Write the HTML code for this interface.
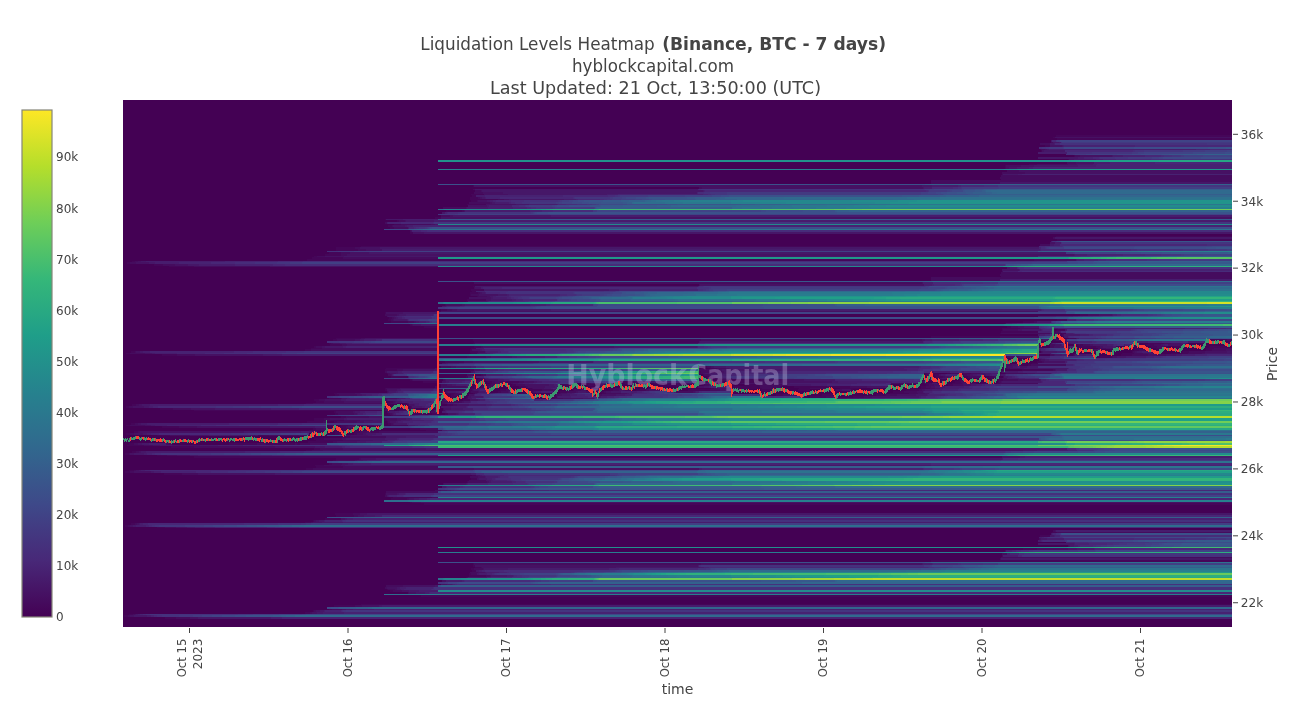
<!DOCTYPE html><html><head><meta charset="utf-8"><title>Liquidation Levels Heatmap</title><style>html,body{margin:0;padding:0;background:#fff;width:1312px;height:707px;overflow:hidden}svg{display:block}text{font-family:'DejaVu Sans','Liberation Sans',sans-serif;fill:#444}</style></head><body><svg width="1312" height="707" viewBox="0 0 1312 707"><rect width="1312" height="707" fill="#fff"/><rect x="123" y="100" width="1109" height="527" fill="#440154"/><g transform="translate(0,.5)" fill="none" stroke-width="1" shape-rendering="crispEdges"><path stroke="#450659" d="M1056 135h176M1056 136h176M1053 137h2M1057 138h175M1057 139h175M1045 145h5M1045 146h5M1040 149h1M1041 150h1M1041 151h1M1074 155h1M1074 156h1M1068 159h1M1029 164h8M1005 165h1M1005 166h1M1005 167h1M1005 168h1M473 185h1M473 186h1M471 194h13M472 195h4M472 196h4M470 197h8M470 198h8M470 199h28M471 200h6M471 201h6M467 204h19M446 210h16M446 211h16M435 217h6M435 218h6M385 219h1M397 220h2M397 221h2M394 224h7M388 225h4M388 226h4M390 227h4M390 228h4M410 232h3M410 233h3M1056 236h176M1057 239h175M1057 240h175M361 246h678M336 247h19M336 248h19M336 249h22M336 250h22M329 252h12M329 253h12M325 254h16M325 255h16M314 256h3M312 257h31M312 258h31M307 259h727M307 260h727M132 261h3M127 262h3M127 263h3M154 264h9M154 265h9M169 266h25M473 286h2M471 289h13M471 290h13M472 291h4M470 292h8M470 293h8M470 294h1M470 295h1M477 296h1M467 299h19M467 300h19M466 301h2M445 304h1M445 305h1M441 309h6M441 310h6M435 311h6M385 312h1M385 313h1M1080 314h8M1080 315h8M389 317h3M389 318h3M388 319h3M1057 319h10M388 320h3M1057 320h10M391 321h17M1023 321h11M391 322h17M1023 322h11M1005 323h1M410 324h2M410 325h2M424 326h13M1007 326h4M424 327h13M1007 327h4M1002 328h18M1002 329h1M1057 329h8M1002 330h1M1057 330h8M1001 331h37M1053 331h3M1001 332h37M1053 332h3M1000 333h1M1054 333h1M1062 333h4M1060 334h1M1062 334h1M1060 335h1M1062 335h1M931 336h69M1063 336h1M931 337h69M1063 337h1M336 338h25M1069 338h7M333 339h4M473 339h228M1039 339h1M1053 339h3M1206 339h21M333 340h4M473 340h228M1039 340h1M1053 340h3M1206 340h21M474 341h225M1230 341h1M474 342h225M1230 342h1M329 343h2M473 343h2M1148 343h16M1203 343h2M330 344h12M1078 344h5M1146 344h8M330 345h12M1078 345h5M1146 345h8M314 346h2M474 346h7M1040 346h2M1079 346h17M1118 346h2M1151 346h6M1164 346h4M1174 346h6M1209 346h19M314 347h2M474 347h7M1040 347h2M1079 347h17M1118 347h2M1151 347h6M1164 347h4M1174 347h6M1209 347h19M311 348h11M471 348h5M1077 348h2M1080 348h3M1135 348h4M1156 348h4M1162 348h2M1206 348h8M305 349h6M470 349h2M1068 349h1M1093 349h1M1100 349h2M1110 349h4M1134 349h5M1206 349h6M305 350h6M470 350h2M1068 350h1M1093 350h1M1100 350h2M1110 350h4M1134 350h5M1206 350h6M131 351h4M470 351h8M1095 351h3M1132 351h1M1182 351h7M131 352h4M470 352h8M1095 352h3M1132 352h1M1182 352h7M126 353h4M471 353h6M1092 353h1M1122 353h12M1171 353h17M162 354h15M1073 354h1M1094 354h1M1121 354h11M162 355h15M1073 355h1M1094 355h1M1121 355h11M467 356h19M1031 356h4M1100 356h12M467 357h19M1031 357h4M1100 357h12M1022 358h1M445 361h19M1037 361h5M445 362h19M1037 362h5M1002 363h1M1005 363h2M1032 363h6M1005 364h1M1028 364h3M1005 365h1M1028 365h3M704 366h3M1003 366h1M704 367h3M1003 367h1M386 368h49M710 368h7M1002 368h5M385 369h12M470 369h4M1022 369h31M385 370h12M470 370h4M1022 370h31M470 371h1M699 371h2M1001 371h1M470 372h1M699 372h2M1001 372h1M387 373h1M925 373h2M947 373h4M963 373h8M1005 373h1M481 374h2M703 374h1M926 374h2M935 374h4M964 374h3M481 375h2M703 375h1M926 375h2M935 375h4M964 375h3M391 376h17M466 376h2M707 376h4M936 376h7M968 376h2M989 376h5M996 376h1M391 377h17M466 377h2M707 377h4M936 377h7M968 377h2M989 377h5M996 377h1M479 378h1M710 378h4M931 378h2M991 378h2M410 379h2M473 379h1M478 379h7M716 379h7M726 379h3M732 379h29M930 379h2M941 379h5M959 379h6M984 379h2M998 379h5M410 380h2M473 380h1M478 380h7M716 380h7M726 380h3M732 380h29M930 380h2M941 380h5M959 380h6M984 380h2M998 380h5M423 381h14M474 381h2M477 381h1M487 381h5M506 381h13M621 381h8M731 381h29M922 381h1M933 381h3M955 381h6M998 381h1M423 382h14M474 382h2M477 382h1M487 382h5M506 382h13M621 382h8M731 382h29M922 382h1M933 382h3M955 382h6M998 382h1M473 383h2M490 383h2M509 383h2M575 383h1M583 383h6M625 383h7M654 383h13M899 383h1M924 383h1M926 383h4M952 383h10M981 383h9M997 383h3M481 384h4M486 384h5M495 384h4M512 384h4M560 384h10M588 384h8M604 384h3M630 384h4M667 384h10M703 384h2M745 384h14M901 384h3M926 384h3M948 384h5M481 385h4M486 385h5M495 385h4M512 385h4M560 385h10M588 385h8M604 385h3M630 385h4M667 385h10M703 385h2M745 385h14M901 385h3M926 385h3M948 385h5M474 386h4M481 386h4M487 386h1M519 386h7M559 386h1M594 386h1M600 386h2M676 386h5M697 386h1M733 386h27M780 386h2M794 386h33M830 386h20M889 386h1M921 386h5M474 387h4M481 387h4M487 387h1M519 387h7M559 387h1M594 387h1M600 387h2M676 387h5M697 387h1M733 387h27M780 387h2M794 387h33M830 387h20M889 387h1M921 387h5M385 388h1M471 388h5M489 388h1M508 388h1M510 388h1M515 388h5M527 388h5M597 388h1M609 388h6M648 388h6M711 388h3M733 388h29M799 388h11M826 388h4M840 388h19M870 388h4M921 388h9M385 389h2M446 389h18M470 389h2M500 389h6M530 389h12M566 389h2M573 389h1M610 389h3M636 389h10M688 389h22M761 389h14M798 389h12M835 389h1M851 389h2M906 389h13M385 390h2M446 390h18M470 390h2M500 390h6M530 390h12M566 390h2M573 390h1M610 390h3M636 390h10M688 390h22M761 390h14M798 390h12M835 390h1M851 390h2M906 390h13M445 391h1M470 391h1M498 391h3M531 391h2M560 391h7M600 391h4M764 391h3M893 391h11M445 392h1M470 392h1M498 392h3M531 392h2M560 392h7M600 392h4M764 392h3M893 392h11M334 393h3M447 393h8M473 393h2M520 393h10M558 393h2M602 393h4M830 393h3M890 393h19M335 394h4M451 394h3M458 394h1M596 394h1M776 394h7M795 394h4M822 394h13M876 394h10M335 395h4M451 395h3M458 395h1M596 395h1M776 395h7M795 395h4M822 395h13M876 395h10M451 396h5M467 396h1M545 396h2M554 396h3M810 396h16M835 396h1M853 396h11M451 397h5M467 397h1M545 397h2M554 397h3M810 397h16M835 397h1M853 397h11M329 398h12M385 398h1M466 398h1M536 398h5M552 398h3M314 399h5M463 399h7M314 400h5M463 400h7M316 401h8M390 401h3M316 402h8M390 402h3M306 403h7M388 403h3M132 404h4M408 404h1M447 404h6M132 405h4M408 405h1M447 405h6M126 406h3M410 406h1M126 407h3M410 407h1M160 408h13M385 408h1M403 408h3M410 408h3M424 408h6M160 409h13M385 409h1M403 409h3M410 409h3M424 409h6M194 410h189M397 410h2M408 410h1M433 410h1M334 411h2M409 411h1M334 412h2M409 412h1M335 413h3M388 413h2M413 413h12M432 413h6M445 413h3M335 414h3M388 414h2M413 414h12M432 414h6M445 414h3M391 415h2M341 416h5M341 417h5M314 418h10M385 418h1M314 419h10M385 419h1M314 420h30M385 420h2M307 421h16M334 421h3M387 421h1M307 422h16M334 422h3M387 422h1M131 423h4M388 423h3M131 424h4M388 424h3M126 425h4M329 425h3M341 425h7M358 425h10M391 425h17M162 426h17M341 426h5M355 426h1M162 427h17M341 427h5M355 427h1M313 428h3M343 428h9M410 428h10M313 429h3M343 429h9M410 429h10M309 430h12M426 430h16M134 431h4M317 431h9M335 431h7M355 431h5M371 431h8M134 432h4M317 432h9M335 432h7M355 432h5M371 432h8M126 433h4M335 433h4M342 433h1M354 433h3M126 434h4M335 434h4M342 434h1M354 434h3M157 435h13M258 435h11M342 436h8M342 437h8M314 438h10M314 439h10M316 440h27M308 441h25M308 442h25M129 443h5M229 443h28M266 443h29M297 443h3M129 444h5M229 444h28M266 444h29M297 444h3M127 445h17M171 446h23M171 447h23M314 448h6M314 449h6M306 450h6M132 451h4M132 452h4M125 453h4M125 454h4M157 455h10M194 456h808M194 457h808M336 458h23M336 459h23M333 460h3M329 463h3M329 464h3M315 465h9M316 466h27M316 467h27M306 468h7M306 469h7M129 470h5M125 471h5M125 472h5M164 473h18M164 474h18M472 475h4M471 478h6M471 479h6M467 481h1M467 482h1M385 493h1M385 494h1M393 497h39M391 498h16M391 499h16M410 502h2M424 503h808M424 504h808M335 513h18M335 514h18M336 515h18M336 516h18M325 518h16M325 519h16M313 520h1M313 521h1M305 522h6M131 523h4M131 524h4M125 525h3M125 526h3M157 527h8M1052 532h5M1040 535h10M1040 536h10M1023 548h14M1023 549h14M931 560h301M931 561h301M473 563h1M473 564h1M473 565h2M473 566h2M475 567h6M471 568h3M471 569h3M472 570h4M472 571h4M469 573h2M469 574h2M469 575h17M469 576h17M466 577h1M387 589h1M390 590h3M390 591h3M421 595h811M421 596h811M361 604h871M334 605h21M334 606h21M329 609h3M313 610h1M313 611h1M305 612h5M305 613h5M129 614h4M124 615h4M124 616h4M165 617h11M165 618h11"/><path stroke="#450c5e" d="M1051 142h2M1040 143h10M1040 144h10M1041 149h4M1075 155h5M1075 156h5M1067 162h9M1067 163h9M1037 164h31M1006 165h15M1006 166h15M1006 167h3M1006 168h3M1007 170h12M1007 171h12M1002 172h23M1002 173h23M1002 174h1M1001 175h231M1001 176h231M1000 177h232M1000 178h232M1001 179h231M931 180h301M931 181h301M931 182h69M931 183h69M699 187h3M699 188h3M473 189h2M475 190h6M475 191h6M474 192h9M474 193h9M478 197h2M478 198h2M498 199h6M477 200h1M477 201h1M469 202h21M469 203h21M443 207h23M443 208h23M462 210h2M462 211h2M441 215h9M441 216h9M399 220h6M399 221h6M385 222h2M385 223h2M401 224h30M392 225h1M392 226h1M394 227h14M394 228h14M410 230h1M410 231h1M1053 237h2M1053 238h2M1040 244h10M1040 245h10M355 247h5M355 248h5M358 249h8M358 250h8M341 252h9M341 253h9M341 254h6M341 255h6M317 256h8M343 257h95M343 258h95M1034 259h42M1034 260h42M135 261h3M130 262h6M130 263h6M163 264h12M163 265h12M194 266h76M1002 271h1M1001 272h231M1001 273h231M1000 274h232M1000 275h232M1001 276h231M931 277h301M931 278h301M931 279h69M931 280h69M474 282h448M474 283h448M699 284h1M699 285h1M474 287h1M474 288h1M478 292h2M478 293h2M471 294h8M471 295h8M478 296h9M446 304h16M446 305h16M447 309h5M447 310h5M385 314h12M1088 314h11M385 315h12M1088 315h11M392 317h2M392 318h2M391 319h2M391 320h2M408 321h6M1034 321h3M408 322h6M1034 322h3M412 324h1M412 325h1M1011 326h7M1011 327h7M1020 328h19M1003 329h15M1003 330h15M1056 331h3M1056 332h3M1001 333h49M1055 333h3M1063 334h1M1063 335h1M1000 336h39M1000 337h39M361 338h4M337 339h18M701 339h221M1041 339h1M1056 339h6M1227 339h5M337 340h18M701 340h221M1041 340h1M1056 340h6M1227 340h5M331 343h2M1164 343h7M1186 343h2M342 344h5M1050 344h5M1083 344h7M1154 344h7M342 345h5M1050 345h5M1083 345h7M1154 345h7M316 346h6M481 346h2M1050 346h4M1068 346h1M1096 346h4M1157 346h7M1180 346h1M316 347h6M481 347h2M1050 347h4M1068 347h1M1096 347h4M1157 347h7M1180 347h1M322 348h115M1076 348h1M1079 348h1M1098 348h8M1115 348h1M1160 348h2M1214 348h17M311 349h126M1077 349h2M1139 349h6M1212 349h14M311 350h126M1077 350h2M1139 350h6M1212 350h14M135 351h1M478 351h7M1041 351h1M1133 351h2M1151 351h2M1189 351h16M135 352h1M478 352h7M1041 352h1M1133 352h2M1151 352h2M1189 352h16M130 353h15M1134 353h9M1153 353h2M1188 353h14M177 354h18M1050 354h4M1074 354h1M1132 354h16M1156 354h10M177 355h18M1050 355h4M1074 355h1M1132 355h16M1156 355h10M486 356h5M1007 356h12M1112 356h1M486 357h5M1007 357h12M1112 357h1M1039 359h2M1039 360h2M464 361h9M1042 361h2M464 362h9M1042 362h2M1007 364h5M1031 364h35M1007 365h5M1031 365h35M441 366h10M707 366h4M1004 366h4M441 367h10M707 367h4M1004 367h4M717 368h9M1007 368h3M397 369h6M699 369h13M1053 369h2M397 370h6M699 370h13M1053 370h2M385 371h2M701 371h14M385 372h2M701 372h14M388 373h2M698 373h5M927 373h2M930 373h1M951 373h10M971 373h9M1006 373h21M388 374h3M467 374h7M483 374h3M704 374h5M928 374h2M958 374h1M967 374h3M1000 374h1M388 375h3M467 375h7M483 375h3M704 375h5M928 375h2M958 375h1M967 375h3M1000 375h1M711 376h1M923 376h1M943 376h2M970 376h10M982 376h1M994 376h2M1003 376h1M711 377h1M923 377h1M943 377h2M970 377h10M982 377h1M994 377h2M1003 377h1M480 378h2M714 378h6M949 378h2M1000 378h2M412 379h1M443 379h2M485 379h1M723 379h3M761 379h20M932 379h2M1003 379h15M412 380h1M443 380h2M485 380h1M723 380h3M761 380h20M932 380h2M1003 380h15M478 381h3M492 381h3M500 381h6M519 381h5M629 381h6M637 381h8M699 381h12M760 381h18M923 381h1M961 381h6M999 381h2M478 382h3M492 382h3M500 382h6M519 382h5M629 382h6M637 382h8M699 382h12M760 382h18M923 382h1M961 382h6M999 382h2M492 383h3M499 383h1M511 383h2M589 383h2M610 383h2M614 383h2M634 383h3M667 383h15M692 383h7M711 383h3M731 383h11M891 383h8M900 383h19M925 383h1M930 383h2M962 383h1M967 383h9M1000 383h38M441 384h6M475 384h2M491 384h4M516 384h9M570 384h4M596 384h4M677 384h6M705 384h4M714 384h1M759 384h23M929 384h5M953 384h10M441 385h6M475 385h2M491 385h4M516 385h9M570 385h4M596 385h4M677 385h6M705 385h4M714 385h1M759 385h23M929 385h5M953 385h10M435 386h2M441 386h25M488 386h1M490 386h5M526 386h2M760 386h20M827 386h3M850 386h17M926 386h5M435 387h2M441 387h25M488 387h1M490 387h5M526 387h2M760 387h20M827 387h3M850 387h17M926 387h5M386 388h14M532 388h1M598 388h1M615 388h4M714 388h4M732 388h1M762 388h11M775 388h2M810 388h16M930 388h5M464 389h1M472 389h1M506 389h5M542 389h11M574 389h7M613 389h6M625 389h6M646 389h3M660 389h2M710 389h10M836 389h6M919 389h3M464 390h1M472 390h1M506 390h5M542 390h11M574 390h7M613 390h6M625 390h6M646 390h3M660 390h2M710 390h10M836 390h6M919 390h3M387 391h1M446 391h1M471 391h7M487 391h1M501 391h7M533 391h1M567 391h9M604 391h2M676 391h17M904 391h13M387 392h1M446 392h1M471 392h7M487 392h1M501 392h7M533 392h1M567 392h9M604 392h2M676 392h17M904 392h13M337 393h18M455 393h3M560 393h1M606 393h15M909 393h9M339 394h18M441 394h1M454 394h4M556 394h3M599 394h3M783 394h12M886 394h11M339 395h18M441 395h1M454 395h4M556 395h3M599 395h3M783 395h12M886 395h11M383 396h1M826 396h7M864 396h8M383 397h1M826 397h7M864 397h8M341 398h1M386 398h11M443 398h4M467 398h1M555 398h8M319 399h6M385 399h2M443 399h1M319 400h6M385 400h2M443 400h1M324 401h20M393 401h2M442 401h20M324 402h20M393 402h2M442 402h20M313 403h70M391 403h3M407 403h1M442 403h3M136 404h3M433 404h1M453 404h4M136 405h3M433 405h1M453 405h4M129 406h4M411 406h1M435 406h3M129 407h4M411 407h1M435 407h3M173 408h18M388 408h1M413 408h1M443 408h1M173 409h18M388 409h1M413 409h1M443 409h1M385 410h2M390 410h4M399 410h7M407 410h1M443 410h2M336 411h17M387 411h1M431 411h4M336 412h17M387 412h1M431 412h4M338 413h16M390 413h2M338 414h16M390 414h2M393 415h14M346 416h23M346 417h23M324 418h6M386 418h11M324 419h6M386 419h11M344 420h16M387 420h10M323 421h3M337 421h20M388 421h2M323 422h3M337 422h20M388 422h2M135 423h3M391 423h2M135 424h3M391 424h2M130 425h15M332 425h4M348 425h5M368 425h6M179 426h18M346 426h2M179 427h18M346 427h2M316 428h8M420 428h18M316 429h8M420 429h18M321 430h5M138 431h2M360 431h7M379 431h59M138 432h2M360 432h7M379 432h59M130 433h4M339 433h3M357 433h6M130 434h4M339 434h3M357 434h6M170 435h20M254 435h1M269 435h30M303 435h4M343 435h8M350 436h36M350 437h36M324 438h18M324 439h18M343 440h17M333 441h4M333 442h4M134 443h4M166 443h6M257 443h9M295 443h2M300 443h10M134 444h4M166 444h6M257 444h9M295 444h2M300 444h10M144 445h9M194 446h81M194 447h81M320 448h23M320 449h23M312 450h11M136 451h3M136 452h3M129 453h1M129 454h1M167 455h10M359 458h2M359 459h2M336 460h19M332 463h10M332 464h10M324 465h17M343 466h95M343 467h95M313 468h161M313 469h161M134 470h2M130 471h4M130 472h4M182 473h16M182 474h16M470 476h8M470 477h8M469 480h17M468 481h19M468 482h19M443 483h1M443 484h1M435 490h6M386 491h52M386 492h52M385 495h2M385 496h2M432 497h6M407 498h2M407 499h2M412 502h9M353 513h7M353 514h7M354 515h4M354 516h4M314 520h2M314 521h2M311 522h2M135 523h2M135 524h2M128 525h2M128 526h2M165 527h11M1053 530h2M1053 531h2M1057 532h175M1039 538h1M1039 539h1M1068 545h1M1068 546h1M1037 548h31M1037 549h31M1005 550h1M1005 551h1M1002 553h5M1002 554h5M1002 555h1M1002 556h1M1001 557h231M1000 558h1M1000 559h1M474 563h227M474 564h227M481 567h1M474 568h9M474 569h9M470 572h8M471 573h6M471 574h6M486 575h4M486 576h4M467 577h1M386 585h17M386 586h17M385 587h2M385 588h2M388 589h7M393 590h9M393 591h9M408 592h1M408 593h1M355 605h7M355 606h7M332 609h10M314 610h2M314 611h2M310 612h2M310 613h2M133 614h2M128 615h2M128 616h2M176 617h14M176 618h14"/><path stroke="#461163" d="M1055 137h177M1050 145h12M1050 146h12M1045 149h2M1042 150h2M1042 151h2M1080 155h32M1080 156h32M1069 159h5M1076 162h18M1076 163h18M1068 164h9M1021 165h13M1021 166h13M1009 167h8M1009 168h8M1019 170h213M1019 171h213M1025 172h207M1025 173h207M474 185h448M474 186h448M702 187h221M702 188h221M481 190h1M481 191h1M483 192h20M483 193h20M484 194h24M480 197h2M480 198h2M504 199h5M478 200h9M478 201h9M490 202h2M490 203h2M486 204h30M468 205h19M468 206h19M466 207h1M466 208h1M464 210h1M464 211h1M450 215h3M450 216h3M441 217h791M441 218h791M405 220h1M405 221h1M431 224h4M393 225h12M393 226h12M411 230h1M411 231h1M413 232h11M413 233h11M1050 242h5M1050 243h5M360 247h20M360 248h20M366 249h16M366 250h16M350 252h19M350 253h19M347 254h727M347 255h727M325 256h19M138 261h3M136 262h13M136 263h13M175 264h13M175 265h13M270 266h168M1007 267h3M1007 268h3M1002 269h17M1002 270h17M922 282h1M922 283h1M700 284h224M700 285h224M475 287h6M475 288h6M480 292h2M480 293h2M479 294h19M479 295h19M487 296h3M469 297h22M469 298h22M486 299h5M486 300h5M462 304h3M462 305h3M452 309h5M452 310h5M441 311h597M386 312h17M386 313h17M397 314h2M1099 314h13M397 315h2M1099 315h13M387 316h1M394 317h2M394 318h2M393 319h1M393 320h1M414 321h2M414 322h2M413 324h8M413 325h8M1018 326h6M1018 327h6M1018 329h4M1018 330h4M1059 331h1M1059 332h1M1052 334h1M1052 335h1M365 338h72M1076 338h1M355 339h5M922 339h3M1042 339h1M1050 339h1M355 340h5M922 340h3M1042 340h1M1050 340h1M699 341h1M699 342h1M333 343h7M475 343h223M1051 343h1M1171 343h10M347 344h90M1055 344h6M1090 344h3M1132 344h2M1161 344h2M1168 344h18M347 345h90M1055 345h6M1090 345h3M1132 345h2M1161 345h2M1168 345h18M322 346h3M483 346h131M1054 346h6M1100 346h3M322 347h3M483 347h131M1054 347h6M1100 347h3M1067 348h4M1106 348h6M1231 348h1M472 349h8M1094 349h3M1226 349h6M472 350h8M1094 350h3M1226 350h6M136 351h4M1042 351h1M1135 351h2M1205 351h22M136 352h4M1042 352h1M1135 352h2M1205 352h22M145 353h7M477 353h2M1143 353h6M1202 353h3M195 354h68M1054 354h1M1148 354h8M1166 354h10M195 355h68M1054 355h1M1148 355h8M1166 355h10M491 356h21M1019 356h12M1113 356h4M491 357h21M1019 357h12M1113 357h4M1041 359h4M1041 360h4M473 361h66M1044 361h21M473 362h66M1044 362h21M442 363h4M1006 364h1M1012 364h4M1019 364h1M1006 365h1M1012 365h4M1019 365h1M451 366h5M711 366h3M1008 366h5M1020 366h7M451 367h5M711 367h3M1008 367h5M1020 367h7M435 368h2M726 368h3M1010 368h14M403 369h31M474 369h6M712 369h10M1055 369h1M403 370h31M474 370h6M712 370h10M1055 370h1M471 371h2M715 371h9M931 371h1M1002 371h1M471 372h2M715 372h9M931 372h1M1002 372h1M390 373h6M703 373h2M929 373h1M980 373h5M1027 373h8M391 374h1M709 374h1M939 374h2M970 374h3M983 374h3M391 375h1M709 375h1M939 375h2M970 375h3M983 375h3M712 376h2M945 376h4M980 376h2M712 377h2M945 377h4M980 377h2M482 378h3M720 378h2M922 378h1M940 378h2M1002 378h5M413 379h24M445 379h1M486 379h12M781 379h23M1018 379h22M413 380h24M445 380h1M486 380h12M781 380h23M1018 380h22M442 381h4M495 381h5M524 381h10M635 381h2M645 381h2M649 381h1M778 381h54M924 381h2M1001 381h1M442 382h4M495 382h5M524 382h10M635 382h2M645 382h2M649 382h1M778 382h54M924 382h2M1001 382h1M475 383h1M495 383h4M513 383h5M591 383h8M607 383h3M612 383h2M632 383h1M682 383h10M699 383h2M742 383h31M937 383h3M963 383h2M447 384h5M525 384h24M600 384h1M709 384h5M782 384h6M934 384h6M963 384h8M447 385h5M525 385h24M600 385h1M709 385h5M782 385h6M934 385h6M963 385h8M466 386h1M489 386h1M528 386h17M595 386h1M698 386h6M867 386h18M887 386h2M931 386h4M466 387h1M489 387h1M528 387h17M595 387h1M698 387h6M867 387h18M887 387h2M931 387h4M400 388h34M533 388h11M599 388h1M619 388h2M718 388h10M773 388h2M935 388h5M387 389h10M473 389h1M553 389h3M581 389h5M593 389h1M619 389h1M623 389h2M649 389h11M720 389h5M842 389h9M922 389h3M387 390h10M473 390h1M553 390h3M581 390h5M593 390h1M619 390h1M623 390h2M649 390h11M720 390h5M842 390h9M922 390h3M388 391h1M447 391h1M478 391h1M508 391h1M534 391h2M576 391h2M586 391h4M606 391h5M693 391h2M917 391h6M388 392h1M447 392h1M478 392h1M508 392h1M534 392h2M576 392h2M586 392h4M606 392h5M693 392h2M917 392h6M355 393h5M458 393h4M475 393h2M561 393h6M621 393h6M918 393h7M357 394h5M469 394h5M559 394h3M593 394h1M602 394h14M897 394h19M357 395h5M469 395h5M559 395h3M593 395h1M602 395h14M897 395h19M468 396h3M597 396h3M833 396h2M872 396h18M468 397h3M597 397h3M833 397h2M872 397h18M342 398h5M397 398h2M563 398h20M325 399h16M444 399h1M470 399h8M325 400h16M444 400h1M470 400h8M344 401h39M395 401h1M435 401h1M462 401h2M344 402h39M395 402h1M435 402h1M462 402h2M394 403h3M408 403h1M445 403h2M139 404h3M409 404h5M457 404h12M139 405h3M409 405h5M457 405h12M133 406h11M133 407h11M191 408h24M386 408h2M444 408h7M191 409h24M386 409h2M444 409h7M387 410h3M406 410h1M353 411h2M388 411h1M353 412h2M388 412h1M354 413h3M392 413h1M448 413h8M354 414h3M392 414h1M448 414h8M407 415h1M369 416h14M369 417h14M330 418h14M397 418h9M330 419h14M397 419h9M360 420h13M397 420h4M357 421h7M390 421h6M357 422h7M390 422h6M138 423h3M393 423h1M138 424h3M393 424h1M145 425h6M353 425h5M374 425h9M197 426h73M348 426h7M197 427h73M348 427h7M324 428h2M324 429h2M140 431h104M367 431h4M140 432h104M367 432h4M134 433h9M363 433h3M134 434h9M363 434h3M190 435h19M250 435h4M255 435h3M299 435h4M351 435h17M342 438h4M342 439h4M360 440h13M337 441h20M337 442h20M138 443h4M310 443h17M138 444h4M310 444h17M153 445h7M172 445h28M275 446h40M275 447h40M343 448h83M343 449h83M323 450h700M139 451h2M139 452h2M130 453h4M130 454h4M177 455h13M1002 456h18M1002 457h18M361 458h15M361 459h15M355 460h2M342 463h6M342 464h6M341 465h4M474 468h225M474 469h225M136 470h3M134 471h17M134 472h17M198 473h77M198 474h77M476 475h4M478 476h7M478 477h7M477 478h2M477 479h2M487 481h2M487 482h2M444 483h22M444 484h22M441 490h6M386 493h11M386 494h11M409 498h5M409 499h5M421 502h811M360 513h7M360 514h7M358 515h6M358 516h6M341 518h4M341 519h4M316 520h3M316 521h3M313 522h9M137 523h2M137 524h2M130 525h3M130 526h3M176 527h11M1055 530h1M1055 531h1M1040 538h1M1040 539h1M1069 545h1M1069 546h1M1068 548h9M1068 549h9M701 563h221M701 564h221M475 565h223M475 566h223M482 567h134M483 568h1M483 569h1M478 572h7M490 575h1M490 576h1M442 580h4M442 581h4M441 584h6M403 585h32M403 586h32M387 587h10M387 588h10M395 589h2M402 590h7M402 591h7M409 592h7M409 593h7M362 605h17M362 606h17M342 609h4M316 610h4M316 611h4M312 612h5M312 613h5M135 614h1M130 615h4M130 616h4M190 617h8M190 618h8"/><path stroke="#461768" d="M1051 140h1M1051 141h1M1053 142h6M1050 143h4M1050 144h4M1062 145h1M1062 146h1M1047 149h2M1044 150h21M1044 151h21M1112 155h1M1112 156h1M1038 157h40M1038 158h40M1074 159h22M1077 164h16M1034 165h44M1034 166h44M1017 167h12M1017 168h12M1003 174h15M1000 182h232M1000 183h232M922 185h10M922 186h10M923 187h1M923 188h1M475 189h223M482 190h221M482 191h221M503 192h194M503 193h194M508 194h99M482 197h3M482 198h3M509 199h55M487 200h3M487 201h3M492 202h3M492 203h3M516 204h13M487 205h2M487 206h2M467 207h21M467 208h21M442 212h3M442 213h3M453 215h98M453 216h98M386 219h17M406 220h28M406 221h28M435 224h3M405 225h2M405 226h2M408 227h1M408 228h1M424 232h808M424 233h808M1055 237h177M1055 238h177M1050 244h4M1050 245h4M380 247h659M380 248h659M369 252h697M369 253h697M1074 254h1M1074 255h1M344 256h694M1076 259h1M1076 260h1M141 261h5M149 262h6M149 263h6M188 264h11M188 265h11M1010 267h7M1010 268h7M1019 269h1M1019 270h1M475 286h223M484 289h125M484 290h125M482 292h3M482 293h3M498 294h9M498 295h9M490 296h3M491 297h2M491 298h2M491 299h21M491 300h21M468 301h19M465 304h65M465 305h65M442 306h4M457 309h94M457 310h94M403 312h34M403 313h34M399 314h7M1112 314h1M399 315h7M1112 315h1M388 316h7M396 317h2M396 318h2M394 319h13M394 320h13M416 321h3M1037 321h14M416 322h3M1037 322h14M1006 323h6M421 324h16M421 325h16M1024 326h15M1024 327h15M1053 328h5M1022 329h19M1065 329h2M1022 330h19M1065 330h2M1060 331h1M1060 332h1M1050 333h3M1038 334h2M1064 334h16M1038 335h2M1064 335h16M1064 336h4M1064 337h4M1077 338h2M360 339h4M925 339h7M1043 339h7M1065 339h2M360 340h4M925 340h7M1043 340h7M1065 340h2M700 341h223M1066 341h2M700 342h223M1066 342h2M340 343h6M1066 343h5M1181 343h1M1061 344h1M1093 344h14M1163 344h2M1061 345h1M1093 345h14M1163 345h2M325 346h18M614 346h83M1060 346h4M1065 346h1M1069 346h1M1103 346h10M325 347h18M614 347h83M1060 347h4M1065 347h1M1069 347h1M1103 347h10M1112 348h3M480 349h2M1039 349h2M1097 349h2M480 350h2M1039 350h2M1097 350h2M140 351h3M485 351h1M1043 351h14M1137 351h5M1227 351h5M140 352h3M485 352h1M1043 352h14M1137 352h5M1227 352h5M152 353h3M479 353h8M1149 353h4M1205 353h27M263 354h19M1055 354h7M1067 354h1M1075 354h11M1176 354h6M263 355h19M1055 355h7M1067 355h1M1075 355h11M1176 355h6M512 356h5M1038 356h2M1117 356h9M512 357h5M1038 357h2M1117 357h9M1004 358h1M1045 359h4M1045 360h4M539 361h54M539 362h54M446 363h2M1016 364h3M1016 365h3M456 366h15M714 366h12M1013 366h4M1027 366h11M456 367h15M714 367h12M1013 367h4M1027 367h11M729 368h1M1024 368h44M434 369h3M480 369h5M722 369h59M1056 369h11M434 370h3M480 370h5M722 370h59M1056 370h11M387 371h11M473 371h2M724 371h7M932 371h2M1003 371h15M387 372h11M473 372h2M724 372h7M932 372h2M1003 372h15M396 373h2M705 373h26M985 373h6M1035 373h16M710 374h1M941 374h4M973 374h4M986 374h4M1001 374h4M710 375h1M941 375h4M973 375h4M986 375h4M1001 375h4M468 376h3M714 376h2M949 376h3M1004 376h4M468 377h3M714 377h2M949 377h3M1004 377h4M722 378h4M942 378h7M446 379h19M498 379h6M804 379h31M920 379h1M1040 379h1M446 380h19M498 380h6M804 380h31M920 380h1M1040 380h1M446 381h3M534 381h3M647 381h2M650 381h4M832 381h6M1002 381h39M446 382h3M534 382h3M647 382h2M650 382h4M832 382h6M1002 382h39M518 383h5M633 383h1M701 383h10M773 383h17M932 383h5M965 383h2M452 384h4M469 384h1M549 384h5M601 384h3M788 384h23M890 384h1M971 384h5M452 385h4M469 385h1M549 385h5M601 385h3M788 385h23M890 385h1M971 385h5M467 386h1M545 386h10M557 386h2M704 386h5M885 386h2M935 386h4M940 386h5M467 387h1M545 387h10M557 387h2M704 387h5M885 387h2M935 387h4M940 387h5M434 388h3M476 388h8M485 388h1M544 388h7M728 388h3M940 388h3M397 389h4M465 389h1M474 389h5M486 389h1M594 389h3M620 389h3M725 389h4M925 389h7M397 390h4M465 390h1M474 390h5M486 390h1M594 390h3M620 390h3M725 390h4M925 390h7M389 391h7M442 391h1M448 391h8M479 391h6M509 391h2M536 391h5M578 391h8M611 391h10M695 391h1M389 392h7M442 392h1M448 392h8M479 392h6M509 392h2M536 392h5M578 392h8M611 392h10M695 392h1M360 393h1M489 393h1M567 393h5M627 393h2M925 393h4M362 394h4M562 394h8M616 394h9M916 394h11M362 395h4M562 395h8M616 395h9M916 395h11M471 396h12M557 396h1M600 396h1M890 396h29M471 397h12M557 397h1M600 397h1M890 397h29M347 398h3M399 398h6M468 398h4M583 398h11M836 398h11M341 399h5M387 399h1M478 399h2M341 400h5M387 400h1M478 400h2M396 401h6M464 401h6M396 402h6M464 402h6M447 403h1M142 404h8M414 404h1M469 404h17M142 405h8M414 405h1M469 405h17M144 406h5M412 406h10M441 406h10M144 407h5M412 407h10M441 407h10M215 408h56M451 408h12M215 409h56M451 409h12M434 410h4M445 410h1M355 411h5M389 411h6M435 411h3M355 412h5M389 412h6M435 412h3M357 413h1M393 413h1M456 413h2M357 414h1M393 414h1M456 414h2M344 418h3M406 418h4M344 419h3M406 419h4M373 420h10M401 420h9M364 421h17M396 421h2M364 422h17M396 422h2M141 423h6M394 423h13M141 424h6M394 424h13M151 425h4M408 425h7M270 426h45M270 427h45M244 431h57M309 431h8M244 432h57M309 432h8M143 433h4M366 433h10M143 434h4M366 434h10M209 435h41M368 435h4M386 436h20M386 437h20M346 438h39M346 439h39M373 440h14M357 441h9M357 442h9M142 443h7M142 444h7M160 445h12M200 445h18M315 446h10M315 447h10M426 448h641M426 449h641M1023 450h14M141 451h5M141 452h5M134 453h10M134 454h10M190 455h8M1020 456h5M1020 457h5M376 458h626M376 459h626M357 460h6M348 463h5M348 464h5M345 465h586M139 470h2M151 471h3M151 472h3M275 473h196M275 474h196M480 475h2M485 476h1M485 477h1M479 478h8M479 479h8M486 480h5M489 481h2M489 482h2M466 483h1M466 484h1M442 486h4M442 487h4M447 490h4M397 493h2M397 494h2M387 495h1M387 496h1M414 498h5M414 499h5M367 513h865M367 514h865M364 515h11M364 516h11M345 518h2M345 519h2M319 520h5M319 521h5M322 522h21M139 523h1M139 524h1M133 525h3M133 526h3M187 527h8M1051 533h1M1051 534h1M1050 535h4M1050 536h4M1041 538h6M1041 539h6M1038 543h36M1038 544h36M1070 545h4M1070 546h4M1077 548h17M1077 549h17M1001 558h231M1001 559h231M922 563h1M922 564h1M616 567h84M484 568h24M484 569h24M476 570h3M476 571h3M485 572h1M477 573h2M477 574h2M491 575h16M491 576h16M468 577h19M447 584h5M435 585h3M435 586h3M397 587h3M397 588h3M397 589h4M409 590h10M409 591h10M416 592h9M416 593h9M379 605h3M379 606h3M346 609h7M320 610h4M320 611h4M317 612h6M317 613h6M136 614h2M134 615h13M134 616h13M198 617h73M198 618h73"/><path stroke="#471c6d" d="M1059 142h2M1054 143h1M1054 144h1M1063 145h1M1063 146h1M1049 149h147M1038 152h29M1038 153h29M1113 155h10M1113 156h10M1078 157h6M1078 158h6M1096 159h7M1094 162h16M1094 163h16M1093 164h4M1078 165h18M1078 166h18M1029 167h4M1029 168h4M1018 174h4M932 185h26M932 186h26M924 187h8M924 188h8M703 190h1M703 191h1M607 194h11M476 195h9M476 196h9M485 197h1M485 198h1M564 199h12M490 200h3M490 201h3M495 202h14M495 203h14M529 204h28M489 205h23M489 206h23M488 207h25M488 208h25M465 210h65M465 211h65M551 215h681M551 216h681M403 219h35M434 220h798M434 221h798M387 222h1M387 223h1M407 225h6M407 226h6M1051 241h1M1055 242h6M1055 243h6M1054 244h6M1054 245h6M382 249h658M382 250h658M1075 254h12M1075 255h12M1077 259h7M1077 260h7M146 261h79M155 262h24M155 263h24M199 264h36M199 265h36M1003 271h15M1000 279h232M1000 280h232M923 282h10M923 283h10M924 284h8M924 285h8M481 287h2M481 288h2M609 289h10M609 290h10M485 292h1M485 293h1M507 294h2M507 295h2M493 296h3M493 297h14M493 298h14M512 299h4M512 300h4M487 301h1M530 304h16M530 305h16M446 306h1M551 309h490M551 310h490M406 314h27M1113 314h4M406 315h27M1113 315h4M395 316h2M1038 316h18M398 317h4M398 318h4M407 319h1M1067 319h9M407 320h1M1067 320h9M419 321h7M419 322h7M1012 323h5M1039 328h1M1058 328h127M1041 329h1M1041 330h1M1066 333h7M1040 334h5M1080 334h9M1040 335h5M1080 335h9M364 339h12M932 339h27M364 340h12M932 340h27M1068 341h10M1135 341h13M1188 341h12M1068 342h10M1135 342h13M1188 342h12M346 343h6M1052 343h1M1071 343h3M1182 343h4M1107 344h6M1124 344h1M1165 344h3M1107 345h6M1124 345h1M1165 345h3M343 346h3M697 346h1M1070 346h4M1113 346h3M343 347h3M697 347h1M1070 347h4M1113 347h3M476 348h8M1039 348h3M482 349h3M1099 349h1M482 350h3M1099 350h1M143 351h7M486 351h12M1057 351h8M1142 351h9M143 352h7M486 352h12M1057 352h8M1142 352h9M155 353h22M487 353h3M1038 353h13M282 354h155M1062 354h4M1086 354h8M1182 354h13M282 355h155M1062 355h4M1086 355h8M1182 355h13M517 356h28M1126 356h20M517 357h28M1126 357h20M1039 358h3M1049 359h27M1049 360h27M1065 361h2M1065 362h2M448 363h11M471 366h5M726 366h193M1017 366h1M471 367h5M726 367h193M1017 367h1M730 368h174M1000 368h1M485 369h1M781 369h126M485 370h1M781 370h126M398 371h4M934 371h16M962 371h2M1018 371h5M398 372h4M934 372h16M962 372h2M1018 372h5M398 373h5M731 373h2M991 373h7M392 374h1M486 374h17M711 374h16M945 374h1M977 374h4M990 374h2M392 375h1M486 375h17M711 375h16M945 375h1M977 375h4M990 375h2M408 376h1M716 376h7M1008 376h4M408 377h1M716 377h7M1008 377h4M485 378h3M726 378h6M1007 378h12M465 379h5M472 379h1M504 379h5M465 380h5M472 380h1M504 380h5M449 381h13M537 381h5M654 381h6M838 381h54M1041 381h1M449 382h13M537 382h5M654 382h6M838 382h54M1041 382h1M523 383h6M599 383h3M790 383h67M456 384h11M554 384h3M811 384h16M976 384h6M456 385h11M554 385h3M811 385h16M976 385h6M468 386h1M555 386h2M596 386h4M709 386h2M720 386h11M939 386h1M945 386h19M468 387h1M555 387h2M596 387h4M709 387h2M720 387h11M939 387h1M945 387h19M551 388h2M556 388h1M943 388h16M401 389h32M479 389h1M597 389h3M729 389h2M932 389h10M401 390h32M479 390h1M597 390h3M729 390h2M932 390h10M396 391h2M456 391h3M485 391h1M541 391h9M631 391h6M674 391h2M696 391h3M923 391h1M396 392h2M456 392h3M485 392h1M541 392h9M631 392h6M674 392h2M696 392h3M923 392h1M361 393h18M477 393h1M490 393h3M572 393h2M591 393h2M629 393h4M366 394h6M474 394h1M570 394h7M625 394h7M927 394h1M366 395h6M474 395h1M570 395h7M625 395h7M927 395h1M558 396h13M601 396h6M919 396h2M558 397h13M601 397h6M919 397h2M350 398h19M405 398h1M847 398h12M346 399h37M388 399h9M445 399h4M480 399h5M346 400h37M388 400h9M445 400h4M480 400h5M402 401h11M470 401h1M402 402h11M470 402h1M409 403h10M448 403h6M150 404h128M415 404h4M486 404h6M150 405h128M415 405h4M486 405h6M149 406h4M422 406h3M451 406h15M149 407h4M422 407h3M451 407h15M271 408h28M463 408h10M271 409h28M463 409h10M446 410h19M360 411h5M395 411h4M442 411h4M360 412h5M395 412h4M442 412h4M358 413h5M394 413h2M458 413h1M358 414h5M394 414h2M458 414h1M408 415h1M347 418h36M410 418h2M347 419h36M410 419h2M410 420h14M381 421h1M398 421h5M381 422h1M398 422h5M147 423h82M147 424h82M155 425h12M415 425h3M315 426h10M315 427h10M442 430h5M301 431h8M301 432h8M147 433h4M376 433h6M147 434h4M376 434h6M372 435h63M406 436h32M406 437h32M385 438h12M385 439h12M387 440h1M366 441h16M366 442h16M149 443h17M149 444h17M218 445h25M325 446h17M325 447h17M1037 450h31M146 451h99M146 452h99M144 453h3M144 454h3M198 455h42M1025 456h207M1025 457h207M1002 458h1M1002 459h1M363 460h4M353 463h18M353 464h18M931 465h69M699 468h3M699 469h3M141 470h4M154 471h7M154 472h7M471 473h5M471 474h5M482 475h3M486 476h12M486 477h12M487 478h5M487 479h5M491 480h2M491 481h21M491 482h21M467 483h1M467 484h1M446 486h1M446 487h1M451 490h3M399 493h6M399 494h6M388 495h1M388 496h1M419 498h8M419 499h8M375 515h7M375 516h7M347 518h6M347 519h6M324 520h1M324 521h1M343 522h889M140 523h3M140 524h3M136 525h10M136 526h10M195 527h20M1056 530h176M1056 531h176M1054 535h1M1054 536h1M1039 537h3M1047 538h17M1047 539h17M1038 540h3M1038 541h3M1074 543h1M1074 544h1M1074 545h4M1074 546h4M1094 548h1M1094 549h1M1006 550h6M1006 551h6M1007 553h3M1007 554h3M1003 555h15M1003 556h15M923 563h9M923 564h9M698 565h1M698 566h1M700 567h4M508 568h101M508 569h101M479 570h3M479 571h3M486 572h13M479 573h8M479 574h8M507 575h6M507 576h6M446 580h16M446 581h16M452 584h1M400 587h6M400 588h6M401 589h3M419 590h19M419 591h19M425 592h4M425 593h4M382 605h850M382 606h850M353 609h21M324 610h1M324 611h1M323 612h21M323 613h21M138 614h2M147 615h4M147 616h4M271 617h11M271 618h11"/><path stroke="#472272" d="M1064 145h71M1064 146h71M1196 149h14M1123 155h22M1123 156h22M1084 157h9M1084 158h9M1103 159h13M1110 162h45M1110 163h45M1097 164h135M1096 165h136M1096 166h136M1033 167h199M1033 168h199M1022 174h210M958 185h3M958 186h3M704 190h1M704 191h1M697 192h1M697 193h1M618 194h85M485 195h78M485 196h78M486 197h14M486 198h14M576 199h2M493 200h3M493 201h3M509 202h2M509 203h2M557 204h1M513 207h14M513 208h14M530 210h12M530 211h12M445 212h2M445 213h2M388 222h13M388 223h13M413 225h819M413 226h819M409 227h5M409 228h5M412 230h9M412 231h9M1039 247h2M1039 248h2M1040 249h1M1040 250h1M1087 254h36M1087 255h36M1084 259h14M1084 260h14M225 261h53M179 262h32M179 263h32M235 264h38M235 265h38M1017 267h1M1017 268h1M1020 269h212M1020 270h212M932 284h2M932 285h2M698 286h1M483 287h19M483 288h19M619 289h79M619 290h79M476 291h9M509 294h51M509 295h51M496 296h13M507 297h4M507 298h4M516 299h7M516 300h7M488 301h1M546 304h4M546 305h4M447 306h13M1041 309h1M1041 310h1M433 314h1M1117 314h4M433 315h1M1117 315h4M397 316h5M1056 316h17M402 317h3M402 318h3M426 321h3M426 322h3M1017 323h6M1040 328h1M1185 328h23M1042 329h1M1042 330h1M1038 331h13M1038 332h13M1073 333h1M1045 334h5M1089 334h4M1045 335h5M1089 335h4M1068 336h1M1068 337h1M1079 338h19M376 339h6M959 339h24M376 340h6M959 340h24M923 341h1M1078 341h14M1148 341h14M1200 341h6M923 342h1M1078 342h14M1148 342h14M1200 342h6M352 343h17M698 343h1M1053 343h3M1064 343h1M1074 343h1M1062 344h3M1113 344h1M1125 344h7M1062 345h3M1113 345h1M1125 345h7M346 346h91M1064 346h1M346 347h91M1064 347h1M1042 348h2M485 349h15M1041 349h4M485 350h15M1041 350h4M150 351h84M498 351h3M150 352h84M498 352h3M177 353h28M490 353h3M1195 354h12M1195 355h12M545 356h12M1040 356h10M1146 356h8M545 357h12M1040 357h10M1146 357h8M1042 358h3M1076 359h1M1076 360h1M593 361h1M593 362h1M459 363h5M1038 363h28M1066 364h7M1066 365h7M919 366h2M1018 366h2M919 367h2M1018 367h2M904 368h15M1068 368h1M486 369h12M907 369h11M486 370h12M907 370h11M402 371h31M731 371h49M950 371h8M961 371h1M964 371h17M1023 371h14M402 372h31M731 372h49M950 372h8M961 372h1M964 372h17M1023 372h14M403 373h1M733 373h40M1051 373h1M503 374h13M727 374h16M946 374h11M981 374h2M992 374h4M1005 374h1M503 375h13M727 375h16M946 375h11M981 375h2M992 375h4M1005 375h1M471 376h3M476 376h8M723 376h4M1012 376h3M471 377h3M476 377h8M723 377h4M1012 377h3M488 378h1M1019 378h6M470 379h2M509 379h1M835 379h27M1041 379h5M470 380h2M509 380h1M835 380h27M1041 380h5M462 381h3M542 381h16M660 381h11M892 381h18M919 381h1M1042 381h1M462 382h3M542 382h16M660 382h11M892 382h18M919 382h1M1042 382h1M529 383h4M602 383h5M857 383h29M467 384h2M827 384h24M982 384h3M995 384h6M467 385h2M827 385h24M982 385h3M995 385h6M711 386h9M964 386h5M711 387h9M964 387h5M484 388h1M553 388h3M959 388h13M433 389h1M480 389h5M942 389h16M433 390h1M480 390h5M942 390h16M398 391h5M459 391h3M550 391h3M621 391h10M637 391h5M924 391h8M398 392h5M459 392h3M550 392h3M621 392h10M637 392h5M924 392h8M379 393h9M478 393h9M493 393h2M574 393h1M633 393h1M929 393h1M372 394h6M577 394h8M732 394h1M928 394h17M372 395h6M577 395h8M732 395h1M928 395h17M483 396h1M571 396h17M607 396h7M921 396h5M483 397h1M571 397h17M607 397h7M921 397h5M369 398h11M406 398h4M472 398h4M594 398h1M859 398h11M397 399h4M534 399h9M397 400h4M534 400h9M413 401h18M413 402h18M419 403h9M454 403h5M278 404h26M419 404h7M430 404h2M492 404h19M278 405h26M419 405h7M430 405h2M492 405h19M153 406h5M425 406h5M466 406h1M153 407h5M425 407h5M466 407h1M299 408h84M299 409h84M465 410h9M365 411h12M399 411h4M446 411h1M365 412h12M399 412h4M446 412h1M363 413h3M459 413h16M363 414h3M459 414h16M409 415h6M424 420h9M382 421h1M403 421h10M382 422h1M403 422h10M229 423h49M407 423h2M229 424h49M407 424h2M167 425h34M418 425h7M325 426h1M325 427h1M447 430h13M151 433h8M151 434h8M397 438h2M397 439h2M388 440h7M243 445h30M342 446h3M342 447h3M1068 450h9M245 451h35M245 452h35M147 453h5M147 454h5M240 455h32M367 460h13M371 463h560M371 464h560M1000 465h232M702 468h221M702 469h221M145 470h5M161 471h35M161 472h35M485 475h19M498 476h2M498 477h2M492 478h3M492 479h3M493 480h14M512 481h4M512 482h4M468 483h20M468 484h20M447 486h13M447 487h13M454 490h95M405 493h1M405 494h1M389 495h8M389 496h8M427 498h3M427 499h3M353 518h879M353 519h879M325 520h17M325 521h17M143 523h5M143 524h5M146 525h3M146 526h3M215 527h52M1052 533h1M1052 534h1M1055 535h5M1055 536h5M1042 537h2M1041 540h1M1041 541h1M1066 542h9M1075 543h14M1075 544h14M1078 545h2M1078 546h2M1095 548h15M1095 549h15M1012 550h4M1012 551h4M1010 553h9M1010 554h9M932 563h1M932 564h1M704 567h5M609 568h10M609 569h10M482 570h3M482 571h3M499 572h8M487 573h5M487 574h5M513 575h1M513 576h1M487 577h4M462 580h2M462 581h2M453 584h2M406 587h27M406 588h27M404 589h27M429 592h1M429 593h1M374 609h858M325 610h16M325 611h16M344 612h888M344 613h888M140 614h3M151 615h3M151 616h3M282 617h950M282 618h950"/><path stroke="#482777" d="M1052 140h4M1052 141h4M1055 143h5M1055 144h5M1135 145h97M1135 146h97M1210 149h21M1065 150h68M1065 151h68M1145 155h16M1145 156h16M1093 157h6M1093 158h6M1116 159h35M1155 162h77M1155 163h77M961 185h23M961 186h23M932 187h21M932 188h21M698 189h1M705 190h221M705 191h221M703 194h5M563 195h45M563 196h45M500 197h73M500 198h73M578 199h22M496 200h15M496 201h15M511 202h4M511 203h4M558 204h8M512 205h7M512 206h7M527 207h4M527 208h4M542 210h11M542 211h11M447 212h1M447 213h1M401 222h32M401 223h32M414 227h2M414 228h2M421 230h6M421 231h6M1060 244h147M1060 245h147M1039 246h6M1041 249h90M1041 250h90M1123 254h22M1123 255h22M1098 259h8M1098 260h8M278 261h25M211 262h24M211 263h24M273 264h12M273 265h12M1018 267h1M1018 268h1M1018 271h4M933 282h28M933 283h28M934 284h21M934 285h21M502 287h195M502 288h195M486 292h14M486 293h14M560 294h7M560 295h7M509 296h2M511 297h3M511 298h3M523 299h34M523 300h34M489 301h25M550 304h43M550 305h43M460 306h4M1042 309h2M1042 310h2M1121 314h19M1121 315h19M402 316h2M1073 316h5M405 317h27M405 318h27M408 319h1M1076 319h1M408 320h1M1076 320h1M429 321h1M429 322h1M1023 323h7M1041 328h4M1208 328h18M1043 329h10M1043 330h10M1061 331h5M1061 332h5M1074 333h1M1093 334h14M1093 335h14M1051 336h1M1069 336h1M1051 337h1M1069 337h1M1098 338h4M983 339h15M983 340h15M924 341h8M1038 341h1M1092 341h4M1162 341h21M924 342h8M1038 342h1M1092 342h4M1162 342h21M369 343h68M699 343h6M1114 344h3M1114 345h3M698 346h6M698 347h6M1044 348h2M500 349h4M1045 349h1M500 350h4M1045 350h1M234 351h19M501 351h7M234 352h19M501 352h7M205 353h19M493 353h2M1207 354h25M1207 355h25M1154 356h7M1154 357h7M1045 358h2M1095 358h5M1077 359h7M1077 360h7M594 361h105M594 362h105M464 363h11M1073 364h1M1073 365h1M476 366h8M921 366h10M476 367h8M921 367h10M919 368h11M498 369h6M918 369h2M1067 369h9M498 370h6M918 370h2M1067 370h9M475 371h2M780 371h78M958 371h3M981 371h2M998 371h2M1037 371h20M475 372h2M780 372h78M958 372h3M981 372h2M998 372h2M1037 372h20M404 373h27M773 373h53M393 374h1M516 374h1M743 374h7M957 374h1M996 374h1M393 375h1M516 375h1M743 375h7M957 375h1M996 375h1M727 376h3M1015 376h2M727 377h3M1015 377h2M473 378h1M489 378h11M732 378h1M1025 378h14M510 379h29M862 379h26M1046 379h3M510 380h29M862 380h26M1046 380h3M465 381h7M558 381h2M671 381h9M910 381h9M1043 381h22M465 382h7M558 382h2M671 382h9M910 382h9M1043 382h22M533 383h3M886 383h5M1038 383h28M557 384h1M851 384h20M985 384h10M1001 384h70M557 385h1M851 385h20M985 385h10M1001 385h70M969 386h4M969 387h4M972 388h17M434 389h3M485 389h1M958 389h3M434 390h3M485 390h1M958 390h3M403 391h1M462 391h4M486 391h1M642 391h2M699 391h3M932 391h1M403 392h1M462 392h4M486 392h1M642 392h2M699 392h3M932 392h1M388 393h3M487 393h2M495 393h2M575 393h3M590 393h1M634 393h13M930 393h4M378 394h4M475 394h6M585 394h6M733 394h16M945 394h3M378 395h4M475 395h6M585 395h6M733 395h16M945 395h3M588 396h9M614 396h5M762 396h12M926 396h9M588 397h9M614 397h5M762 397h12M926 397h9M380 398h3M870 398h15M401 399h20M485 399h1M543 399h4M401 400h20M485 400h1M543 400h4M431 401h1M471 401h6M431 402h1M471 402h6M428 403h1M459 403h10M304 404h79M426 404h3M432 404h1M511 404h4M304 405h79M426 405h3M432 405h1M511 405h4M158 406h42M467 406h1M158 407h42M467 407h1M473 408h15M473 409h15M377 411h6M403 411h1M447 411h12M377 412h6M403 412h1M447 412h12M366 413h11M396 413h5M366 414h11M396 414h5M415 415h3M412 418h9M412 419h9M433 420h1M413 421h18M413 422h18M278 423h24M409 423h11M278 424h24M409 424h11M201 425h15M425 425h4M460 430h4M159 433h51M159 434h51M435 435h6M399 438h34M399 439h34M395 440h3M382 441h8M382 442h8M273 445h11M345 446h5M345 447h5M1067 448h9M1067 449h9M280 451h24M280 452h24M152 453h3M152 454h3M272 455h12M1003 458h15M1003 459h15M380 460h2M931 463h301M931 464h301M923 468h1M923 469h1M150 470h86M196 471h15M196 472h15M476 473h8M476 474h8M504 475h76M500 476h8M500 477h8M495 478h1M495 479h1M507 480h4M516 481h9M516 482h9M488 483h25M488 484h25M460 486h3M460 487h3M549 490h683M406 493h28M406 494h28M397 495h6M397 496h6M430 498h802M430 499h802M382 515h850M382 516h850M342 520h1M342 521h1M148 523h96M148 524h96M149 525h3M149 526h3M267 527h8M1053 533h3M1053 534h3M1044 537h3M1064 538h70M1064 539h70M1042 540h1M1042 541h1M1075 542h13M1089 543h18M1089 544h18M1080 545h13M1080 546h13M1110 548h122M1110 549h122M1016 550h5M1016 551h5M1018 555h4M1018 556h4M933 563h25M933 564h25M709 567h219M619 568h79M619 569h79M485 570h19M485 571h19M507 572h2M492 573h2M492 574h2M514 575h3M514 576h3M491 577h21M464 580h1M464 581h1M455 584h2M433 587h1M433 588h1M431 589h1M430 592h802M430 593h802M341 610h1M341 611h1M143 614h3M154 615h3M154 616h3"/><path stroke="#472c7a" d="M1039 147h3M1039 148h3M1231 149h1M1133 150h2M1133 151h2M1161 155h3M1161 156h3M1099 157h1M1099 158h1M1151 159h22M984 185h14M984 186h14M953 187h5M953 188h5M699 189h2M926 190h2M926 191h2M698 192h6M698 193h6M708 194h3M608 195h7M608 196h7M573 197h1M573 198h1M600 199h4M511 200h13M511 201h13M515 202h7M515 203h7M566 204h11M519 205h6M519 206h6M531 207h5M531 208h5M553 210h40M553 211h40M448 212h10M448 213h10M433 222h1M433 223h1M416 227h3M416 228h3M427 230h805M427 231h805M1052 241h1M1061 242h1M1061 243h1M1207 244h25M1207 245h25M1045 246h17M1041 247h4M1041 248h4M1131 249h6M1131 250h6M1145 254h16M1145 255h16M1038 256h43M1106 259h41M1106 260h41M303 261h713M235 262h20M235 263h20M285 264h720M285 265h720M1019 267h5M1019 268h5M1022 271h210M961 282h22M961 283h22M955 284h5M955 285h5M699 286h4M698 289h5M698 290h5M485 291h23M500 292h6M500 293h6M567 294h9M567 295h9M511 296h10M514 297h4M514 298h4M514 301h11M464 306h1M1044 309h21M1044 310h21M1140 314h8M1140 315h8M404 316h27M1078 316h5M1077 319h17M1077 320h17M1051 321h1M1051 322h1M1030 323h20M1045 328h2M1226 328h6M1067 329h64M1067 330h64M1050 334h2M1107 334h6M1050 335h2M1107 335h6M1070 336h4M1070 337h4M1102 338h4M932 341h1M1096 341h1M1183 341h5M932 342h1M1096 342h1M1183 342h5M705 343h219M1056 343h2M1134 343h1M1117 344h7M1117 345h7M704 346h4M704 347h4M484 348h24M1046 348h1M504 349h62M1046 349h3M504 350h62M1046 350h3M253 351h33M508 351h1M1065 351h2M253 352h33M508 352h1M1065 352h2M224 353h23M495 353h1M557 356h1M1050 356h10M1068 356h10M1161 356h2M557 357h1M1050 357h10M1068 357h10M1161 357h2M1047 358h2M1100 358h7M1084 359h21M1084 360h21M699 361h1M1067 361h1M699 362h1M1067 362h1M475 363h58M1074 364h1M1074 365h1M931 366h8M931 367h8M930 368h2M1069 368h4M504 369h67M920 369h3M504 370h67M920 370h3M433 371h1M477 371h2M858 371h35M924 371h6M983 371h14M1057 371h11M433 372h1M477 372h2M858 372h35M924 372h6M983 372h14M1057 372h11M431 373h1M826 373h61M1052 373h1M517 374h5M750 374h7M997 374h1M1006 374h3M517 375h5M750 375h7M997 375h1M1006 375h3M409 376h5M1017 376h1M409 377h5M1017 377h1M500 378h3M733 378h32M539 379h10M888 379h26M1049 379h86M539 380h10M888 380h26M1049 380h86M560 381h1M576 381h2M680 381h10M560 382h1M576 382h2M680 382h10M536 383h20M574 383h1M558 384h2M871 384h19M1071 384h4M558 385h2M871 385h19M1071 385h4M973 386h8M973 387h8M989 388h11M961 389h28M961 390h28M404 391h27M644 391h5M667 391h7M702 391h15M933 391h8M404 392h27M644 392h5M667 392h7M702 392h15M933 392h8M391 393h1M497 393h12M578 393h4M647 393h5M934 393h16M481 394h1M591 394h1M632 394h2M749 394h12M948 394h8M481 395h1M591 395h1M632 395h2M749 395h12M948 395h8M619 396h8M774 396h10M935 396h2M619 397h8M774 397h10M935 397h2M885 398h17M421 399h3M436 399h1M486 399h3M547 399h4M421 400h3M436 400h1M486 400h3M547 400h4M432 401h3M477 401h13M432 402h3M477 402h13M429 403h5M469 403h9M429 404h1M515 404h3M429 405h1M515 405h3M200 406h16M200 407h16M488 408h25M488 409h25M474 410h36M404 411h5M459 411h3M404 412h5M459 412h3M377 413h5M401 413h4M377 414h5M401 414h4M418 415h2M421 418h13M421 419h13M434 420h36M431 421h1M431 422h1M302 423h24M420 423h8M302 424h24M420 424h8M216 425h23M210 433h21M308 433h1M382 433h59M210 434h21M308 434h1M382 434h59M441 435h10M433 438h1M433 439h1M398 440h5M390 441h2M390 442h2M284 445h15M350 446h62M350 447h62M1077 450h16M304 451h701M304 452h701M155 453h6M155 454h6M284 455h154M1018 458h214M1018 459h214M924 468h8M924 469h8M236 470h17M211 471h17M211 472h17M580 475h30M508 476h1M508 477h1M496 478h15M496 479h15M511 480h2M525 481h1M525 482h1M513 483h14M513 484h14M463 486h2M463 487h2M403 495h1M403 496h1M343 520h3M343 521h3M244 523h34M244 524h34M152 525h3M152 526h3M275 527h24M1060 535h172M1060 536h172M1047 537h1M1134 538h51M1134 539h51M1043 540h22M1043 541h22M1088 542h35M1107 543h6M1107 544h6M1093 545h3M1093 546h3M1021 550h8M1021 551h8M1019 553h5M1019 554h5M958 563h3M958 564h3M699 565h2M699 566h2M928 567h1M504 570h79M504 571h79M509 572h62M494 573h1M494 574h1M517 575h5M517 576h5M465 580h65M465 581h65M457 584h94M432 589h3M342 610h1M342 611h1M146 614h4M157 615h5M157 616h5"/><path stroke="#45317d" d="M1061 142h1M1060 143h147M1060 144h147M1042 147h4M1042 148h4M1135 150h9M1135 151h9M1067 152h25M1067 153h25M1066 154h7M1164 155h8M1164 156h8M1100 157h15M1100 158h15M1173 159h59M958 187h3M958 188h3M701 189h223M928 190h1M928 191h1M704 192h6M704 193h6M711 194h4M615 195h3M615 196h3M574 197h1M574 198h1M604 199h3M524 200h34M524 201h34M522 202h8M522 203h8M577 204h10M525 205h1M525 206h1M536 207h17M536 208h17M458 212h2M458 213h2M419 227h6M419 228h6M1053 241h3M1062 246h1M1045 247h1M1045 248h1M1137 249h46M1137 250h46M327 251h11M1161 254h9M1161 255h9M1081 256h9M1147 259h12M1147 260h12M1016 261h21M255 262h22M255 263h22M1024 267h6M1024 268h6M983 282h15M983 283h15M960 284h2M960 285h2M703 286h1M697 287h12M697 288h12M703 289h3M703 290h3M508 291h96M506 292h67M506 293h67M576 294h1M576 295h1M521 296h37M518 297h4M518 298h4M525 301h3M465 306h66M1038 311h28M1148 314h5M1148 315h5M1083 316h10M432 317h3M432 318h3M409 319h9M409 320h9M430 321h2M430 322h2M1039 326h3M1039 327h3M1047 328h6M1131 329h2M1131 330h2M1075 333h11M1113 334h1M1113 335h1M1074 336h6M1074 337h6M1106 338h29M382 339h55M998 339h18M382 340h55M998 340h18M327 341h12M933 341h20M1097 341h19M327 342h12M933 342h20M1097 342h19M924 343h1M1058 343h2M1075 343h20M708 346h3M708 347h3M508 348h101M1047 348h2M566 349h7M1049 349h4M566 350h7M1049 350h4M286 351h18M509 351h58M286 352h18M509 352h58M247 353h30M496 353h15M1051 353h1M1066 354h1M1066 355h1M558 356h11M1060 356h4M1078 356h6M1163 356h3M558 357h11M1060 357h4M1078 357h6M1163 357h3M1049 358h13M1107 358h17M1105 359h35M1105 360h35M700 361h65M1068 361h9M700 362h65M1068 362h9M533 363h1M1066 363h22M484 366h24M939 366h2M1038 366h42M484 367h24M939 367h2M1038 367h42M932 368h8M1073 368h6M571 369h3M1076 369h1M571 370h3M1076 370h1M434 371h3M479 371h11M893 371h18M930 371h1M997 371h1M1068 371h9M434 372h3M479 372h11M893 372h18M930 372h1M997 372h1M1068 372h9M432 373h3M887 373h13M1053 373h3M522 374h7M757 374h20M1009 374h5M522 375h7M757 375h20M1009 375h5M414 376h2M730 376h10M1018 376h1M414 377h2M730 377h10M1018 377h1M503 378h10M765 378h6M549 379h4M914 379h6M1135 379h5M549 380h4M914 380h6M1135 380h5M561 381h7M578 381h6M690 381h8M561 382h7M578 382h6M690 382h8M981 386h6M981 387h6M1000 388h68M989 389h9M989 390h9M649 391h1M717 391h15M941 391h1M649 392h1M717 392h15M941 392h1M392 393h1M509 393h2M582 393h3M652 393h4M950 393h12M482 394h4M592 394h1M634 394h20M956 394h7M482 395h4M592 395h1M634 395h20M956 395h7M327 396h4M484 396h5M627 396h4M784 396h5M799 396h4M937 396h2M327 397h4M484 397h5M627 397h4M784 397h5M799 397h4M937 397h2M410 398h2M595 398h1M902 398h17M424 399h7M489 399h11M551 399h2M424 400h7M489 400h11M551 400h2M490 401h3M490 402h3M478 403h9M518 404h5M518 405h5M216 406h17M468 406h19M216 407h17M468 407h19M513 408h14M513 409h14M510 410h20M462 411h2M462 412h2M405 413h2M405 414h2M327 415h4M420 415h8M434 418h36M434 419h36M470 420h8M432 421h3M432 422h3M327 423h13M428 423h41M327 424h13M428 424h41M239 425h20M429 425h1M464 430h67M231 433h17M441 433h6M231 434h17M441 434h6M451 435h599M434 438h605M434 439h605M403 440h28M392 441h1M392 442h1M299 445h32M412 446h1M412 447h1M1076 448h1M1076 449h1M1093 450h1M1005 451h1M1005 452h1M161 453h39M161 454h39M382 460h619M932 468h1M932 469h1M253 470h27M228 471h18M228 472h18M484 473h24M484 474h24M610 475h5M509 476h62M509 477h62M511 478h10M511 479h10M513 480h2M526 481h28M526 482h28M527 483h1M527 484h1M465 486h66M465 487h66M434 493h798M434 494h798M404 495h27M404 496h27M346 520h886M346 521h886M278 523h23M278 524h23M155 525h4M155 526h4M299 527h933M1056 533h3M1056 534h3M1048 537h14M1185 538h21M1185 539h21M1123 542h11M1113 543h6M1113 544h6M1096 545h5M1096 546h5M1029 550h4M1029 551h4M1024 553h6M1024 554h6M1022 555h210M1022 556h210M961 563h22M961 564h22M701 565h223M701 566h223M929 567h5M698 568h8M698 569h8M583 570h27M583 571h27M571 572h3M495 573h2M495 574h2M522 575h7M522 576h7M512 577h10M530 580h5M530 581h5M551 584h681M434 587h798M434 588h798M435 589h797M343 610h3M343 611h3M150 614h88M162 615h17M162 616h17"/><path stroke="#44357f" d="M1056 140h1M1056 141h1M1207 143h25M1207 144h25M1046 147h3M1046 148h3M1144 150h39M1144 151h39M1092 152h40M1092 153h40M1073 154h2M1172 155h9M1172 156h9M1115 157h13M1115 158h13M998 185h234M998 186h234M961 187h1M961 188h1M924 189h1M710 192h17M710 193h17M715 194h12M618 195h2M618 196h2M575 197h35M575 198h35M607 199h5M558 200h2M558 201h2M530 202h26M530 203h26M587 204h5M526 205h3M526 206h3M553 207h2M553 208h2M460 212h71M460 213h71M438 214h17M434 222h798M434 223h798M425 227h2M425 228h2M1062 242h170M1062 243h170M1046 247h1M1046 248h1M1183 249h25M1183 250h25M338 251h16M1066 252h7M1066 253h7M1170 254h11M1170 255h11M1090 256h3M1159 259h13M1159 260h13M1037 261h30M277 262h13M277 263h13M1030 267h202M1030 268h202M704 286h221M709 287h2M709 288h2M706 289h3M706 290h3M604 291h11M573 292h1M573 293h1M577 294h5M577 295h5M558 296h2M522 297h7M522 298h7M557 299h1M557 300h1M528 301h1M531 306h4M438 307h7M438 308h7M434 314h3M1153 314h4M434 315h3M1153 315h4M431 316h6M1093 316h8M435 317h2M435 318h2M418 319h2M1094 319h4M418 320h2M1094 320h4M1050 323h4M1042 326h2M1042 327h2M1133 329h2M1133 330h2M1051 331h1M1051 332h1M1086 333h35M1114 334h6M1114 335h6M1080 336h16M1080 337h16M1135 338h4M1016 339h21M1016 340h21M339 341h15M953 341h7M1116 341h10M339 342h15M953 342h7M1116 342h10M925 343h4M1060 343h1M1095 343h28M711 346h16M711 347h16M609 348h6M573 349h7M1053 349h2M573 350h7M1053 350h2M304 351h133M567 351h7M304 352h133M567 352h7M277 353h5M511 353h10M569 356h8M1084 356h9M1166 356h15M569 357h8M1084 357h9M1166 357h15M1062 358h1M1124 358h22M1140 359h20M1140 360h20M765 361h70M1077 361h17M765 362h70M1077 362h17M534 363h4M1088 363h8M438 364h10M1075 364h16M438 365h10M1075 365h16M508 366h32M941 366h2M1080 366h5M508 367h32M941 367h2M1080 367h5M1079 368h3M574 369h1M923 369h10M1077 369h21M574 370h1M923 370h10M1077 370h21M490 371h3M911 371h7M490 372h3M911 372h7M435 373h2M900 373h24M1056 373h3M394 374h11M529 374h16M777 374h6M1014 374h3M394 375h11M529 375h16M777 375h6M1014 375h3M416 376h2M484 376h3M740 376h20M1019 376h16M416 377h2M484 377h3M740 377h20M1019 377h16M513 378h2M771 378h8M553 379h18M1140 379h65M553 380h18M1140 380h65M568 381h5M584 381h13M1065 381h2M568 382h5M584 382h13M1065 382h2M438 383h7M556 383h3M987 386h7M987 387h7M431 391h1M650 391h5M942 391h13M431 392h1M650 392h5M942 392h13M393 393h1M585 393h4M656 393h3M962 393h1M382 394h8M486 394h4M654 394h14M963 394h3M382 395h8M486 395h4M654 395h14M963 395h3M331 396h2M489 396h23M631 396h32M789 396h10M939 396h2M331 397h2M489 397h23M631 397h32M789 397h10M939 397h2M919 398h2M431 399h2M500 399h5M553 399h20M431 400h2M500 400h5M553 400h20M493 401h4M493 402h4M487 403h4M523 404h7M523 405h7M233 406h16M487 406h2M233 407h16M487 407h2M527 408h4M527 409h4M530 410h11M464 411h1M464 412h1M407 413h3M475 413h6M407 414h3M475 414h6M331 415h2M428 415h1M470 418h2M470 419h2M478 420h7M435 421h3M435 422h3M340 423h14M340 424h14M259 425h18M430 425h2M531 430h3M248 433h13M307 433h1M447 433h5M248 434h13M307 434h1M447 434h5M1050 435h4M393 441h1M393 442h1M331 445h8M413 446h11M413 447h11M1077 448h2M1077 449h2M1006 451h5M1006 452h5M200 453h11M200 454h11M933 468h21M933 469h21M280 470h24M246 471h19M246 472h19M508 473h102M508 474h102M615 475h2M571 476h3M571 477h3M521 478h37M521 479h37M515 480h7M554 481h3M554 482h3M528 483h1M528 484h1M531 486h3M531 487h3M438 488h7M438 489h7M301 523h5M301 524h5M159 525h26M159 526h26M1059 533h1M1059 534h1M1062 537h1M1206 538h20M1206 539h20M1065 540h2M1065 541h2M1134 542h15M1119 543h8M1119 544h8M1101 545h6M1101 546h6M1033 550h45M1033 551h45M1030 553h202M1030 554h202M983 563h15M983 564h15M934 567h14M706 568h4M706 569h4M610 570h5M610 571h5M574 572h1M497 573h14M497 574h14M529 575h27M529 576h27M522 577h3M535 580h6M535 581h6M438 582h7M438 583h7M346 610h886M346 611h886M238 614h15M179 615h14M179 616h14"/><path stroke="#433a81" d="M1057 140h3M1057 141h3M1062 142h170M1049 147h14M1049 148h14M1183 150h22M1183 151h22M1132 152h6M1132 153h6M1075 154h11M1181 155h3M1181 156h3M1128 157h24M1128 158h24M962 187h37M962 188h37M925 189h5M929 190h18M929 191h18M727 192h194M727 193h194M727 194h194M620 195h28M620 196h28M610 197h3M610 198h3M612 199h9M560 200h2M560 201h2M556 202h3M556 203h3M592 204h4M529 205h23M529 206h23M555 207h39M555 208h39M593 210h4M593 211h4M531 212h2M531 213h2M455 214h3M427 227h1M427 228h1M1056 241h1M1063 246h1M1047 247h2M1047 248h2M1208 249h19M1208 250h19M354 251h16M1073 252h2M1073 253h2M1181 254h3M1181 255h3M1093 256h7M1172 259h60M1172 260h60M290 262h12M290 263h12M1005 264h1M1005 265h1M962 284h2M962 285h2M925 286h1M711 287h210M711 288h210M709 289h4M709 290h4M615 291h1M574 292h1M574 293h1M582 294h18M582 295h18M560 296h2M529 297h1M529 298h1M558 299h11M558 300h11M529 301h7M593 304h1M593 305h1M535 306h2M445 307h3M445 308h3M1065 309h68M1065 310h68M1157 314h4M1157 315h4M1101 316h2M420 319h8M1098 319h7M420 320h8M1098 320h7M432 321h5M1052 321h1M432 322h5M1052 322h1M1054 323h1M1044 326h3M1044 327h3M1135 329h2M1135 330h2M1066 331h51M1066 332h51M1121 333h11M1120 334h23M1120 335h23M1039 336h3M1096 336h5M1039 337h3M1096 337h5M1139 338h17M1037 339h2M1037 340h2M354 341h10M960 341h1M1126 341h8M354 342h10M960 342h1M1126 342h8M929 343h1M1123 343h11M727 346h194M727 347h194M615 348h3M1049 348h13M580 349h30M1055 349h1M580 350h30M1055 350h1M574 351h2M574 352h2M282 353h15M521 353h37M1052 353h1M577 356h11M1064 356h4M1093 356h2M1181 356h28M577 357h11M1064 357h4M1093 357h2M1181 357h28M1063 358h1M1146 358h9M1160 359h39M1160 360h39M835 361h3M1094 361h1M835 362h3M1094 362h1M538 363h160M1096 363h30M448 364h5M1091 364h41M448 365h5M1091 365h41M540 366h11M943 366h3M1085 366h8M540 367h11M943 367h3M1085 367h8M940 368h2M1082 368h18M575 369h30M933 369h8M1098 369h4M575 370h30M933 370h8M1098 370h4M493 371h3M918 371h6M1077 371h16M493 372h3M918 372h6M1077 372h16M1059 373h1M405 374h2M545 374h12M783 374h6M1017 374h6M405 375h2M545 375h12M783 375h6M1017 375h6M418 376h1M487 376h2M760 376h26M1035 376h5M418 377h1M487 377h2M760 377h26M1035 377h5M515 378h12M779 378h15M571 379h3M1205 379h5M571 380h3M1205 380h5M573 381h3M597 381h5M573 382h3M597 382h5M445 383h3M559 383h13M1075 384h14M1075 385h14M994 386h3M994 387h3M1068 388h1M998 389h69M998 390h69M432 391h3M655 391h10M666 391h1M955 391h5M432 392h3M655 392h10M666 392h1M955 392h5M394 393h11M589 393h1M659 393h5M963 393h2M390 394h4M490 394h1M668 394h14M966 394h7M390 395h4M490 395h1M668 395h14M966 395h7M333 396h5M663 396h5M941 396h3M333 397h5M663 397h5M941 397h3M412 398h1M476 398h3M596 398h1M921 398h17M433 399h1M505 399h5M573 399h1M433 400h1M505 400h5M573 400h1M497 401h10M497 402h10M491 403h3M530 404h21M530 405h21M249 406h12M489 406h2M249 407h12M489 407h2M531 408h1M531 409h1M541 410h5M465 411h8M465 412h8M382 413h1M481 413h1M382 414h1M481 414h1M333 415h6M429 415h12M472 418h7M472 419h7M485 420h1M354 423h14M469 423h17M354 424h14M469 424h17M277 425h11M432 425h35M534 430h5M438 431h7M438 432h7M261 433h20M452 433h3M261 434h20M452 434h3M1054 435h1M431 440h1M394 441h13M394 442h13M339 445h8M424 446h14M424 447h14M1079 448h19M1079 449h19M1094 450h3M1011 451h12M1011 452h12M211 453h13M211 454h13M1001 460h231M954 468h6M954 469h6M304 470h169M265 471h16M265 472h16M610 473h8M610 474h8M617 475h2M574 476h1M574 477h1M558 478h2M558 479h2M522 480h4M529 483h7M529 484h7M534 486h1M534 487h1M445 488h3M445 489h3M431 495h2M431 496h2M306 523h5M306 524h5M185 525h19M185 526h19M1060 533h1M1060 534h1M1226 538h6M1226 539h6M1149 542h18M1127 543h18M1127 544h18M1107 545h7M1107 546h7M1078 550h17M1078 551h17M924 565h6M924 566h6M948 567h4M710 568h1M710 569h1M615 570h2M615 571h2M575 572h2M511 573h9M511 574h9M556 575h1M556 576h1M525 577h3M541 580h8M541 581h8M445 582h3M445 583h3M253 614h26M193 615h9M193 616h9"/><path stroke="#413f84" d="M1063 147h1M1063 148h1M1205 150h22M1205 151h22M1138 152h6M1138 153h6M1086 154h31M1184 155h19M1184 156h19M1152 157h7M1152 158h7M999 187h233M999 188h233M930 189h4M947 190h3M947 191h3M921 192h7M921 193h7M921 194h17M648 195h37M648 196h37M613 197h9M613 198h9M621 199h14M562 200h7M562 201h7M559 202h3M559 203h3M596 204h3M552 205h3M552 206h3M594 207h1M594 208h1M533 212h1M533 213h1M458 214h92M428 227h1M428 228h1M1057 241h2M1064 246h71M1049 247h15M1049 248h15M1227 249h5M1227 250h5M370 251h668M1075 252h41M1075 253h41M1184 254h19M1184 255h19M1100 256h13M302 262h730M302 263h730M998 282h234M998 283h234M964 284h31M964 285h31M926 286h3M921 287h7M921 288h7M713 289h14M713 290h14M616 291h3M575 292h35M575 293h35M600 294h4M600 295h4M562 296h6M530 297h26M530 298h26M569 299h2M569 300h2M536 301h16M594 304h4M594 305h4M537 306h4M448 307h10M448 308h10M1133 309h4M1133 310h4M1066 311h1M1161 314h2M1161 315h2M1103 316h10M428 319h1M1105 319h6M428 320h1M1105 320h6M1053 321h3M1053 322h3M1047 326h2M1047 327h2M1137 329h7M1137 330h7M1052 331h1M1117 331h13M1052 332h1M1117 332h13M1132 333h24M1143 334h9M1143 335h9M1042 336h2M1101 336h5M1042 337h2M1101 337h5M1156 338h4M1067 339h10M1067 340h10M364 341h7M961 341h34M1134 341h1M364 342h7M961 342h34M1134 342h1M930 343h4M1061 343h3M921 346h5M921 347h5M618 348h1M1062 348h1M610 349h3M1056 349h2M610 350h3M1056 350h2M576 351h2M576 352h2M297 353h140M558 353h2M1053 353h3M588 356h8M1209 356h23M588 357h8M1209 357h23M1155 358h21M1199 359h25M1199 360h25M838 361h86M1095 361h15M838 362h86M1095 362h15M1126 363h16M453 364h4M1132 364h16M453 365h4M1132 365h16M551 366h59M946 366h21M1093 366h6M551 367h59M946 367h21M1093 367h6M942 368h17M1100 368h3M605 369h8M941 369h17M1102 369h7M605 370h8M941 370h17M1102 370h7M496 371h6M1093 371h1M496 372h6M1093 372h1M1060 373h1M557 374h1M789 374h19M1023 374h5M557 375h1M789 375h19M1023 375h5M419 376h6M489 376h2M786 376h11M1040 376h5M419 377h6M489 377h2M786 377h11M1040 377h5M527 378h4M794 378h12M574 379h1M1210 379h21M574 380h1M1210 380h21M602 381h3M602 382h3M448 383h9M572 383h2M1089 384h32M1089 385h32M997 386h41M997 387h41M1069 388h1M435 391h2M665 391h1M960 391h2M435 392h2M665 392h1M960 392h2M405 393h2M664 393h5M965 393h16M394 394h14M491 394h2M682 394h10M973 394h3M394 395h14M491 395h2M682 395h10M973 395h3M338 396h2M512 396h2M533 396h1M668 396h9M944 396h3M338 397h2M512 397h2M533 397h1M668 397h9M944 397h3M413 398h7M479 398h6M597 398h7M938 398h2M434 399h2M510 399h20M574 399h1M434 400h2M510 400h20M574 400h1M507 401h2M507 402h2M494 403h13M551 404h6M551 405h6M261 406h19M491 406h21M261 407h19M491 407h21M532 408h4M532 409h4M546 410h4M482 413h51M482 414h51M339 415h10M384 416h24M384 417h24M479 418h1M479 419h1M486 420h12M368 423h4M486 423h5M368 424h4M486 424h5M288 425h11M467 425h1M384 426h25M384 427h25M539 430h54M445 431h3M445 432h3M281 433h15M455 433h3M281 434h15M455 434h3M1055 435h5M432 440h3M407 441h6M407 442h6M347 445h6M1098 448h6M1098 449h6M1097 450h12M1023 451h11M1023 452h11M224 453h15M224 454h15M960 468h2M960 469h2M281 471h12M281 472h12M618 473h80M618 474h80M619 475h3M575 476h2M575 477h2M560 478h1M560 479h1M526 480h4M557 481h1M557 482h1M536 483h16M536 484h16M535 486h4M535 487h4M448 488h7M448 489h7M433 495h1M433 496h1M311 523h921M311 524h921M204 525h9M204 526h9M1063 537h1M1167 542h16M1145 543h7M1145 544h7M1114 545h32M1114 546h32M1095 550h1M1095 551h1M998 563h234M998 564h234M930 565h2M930 566h2M952 567h11M711 568h4M711 569h4M617 570h3M617 571h3M577 572h9M520 573h4M520 574h4M557 575h1M557 576h1M528 577h1M549 580h44M549 581h44M279 614h23M202 615h10M202 616h10"/><path stroke="#404386" d="M1060 140h172M1060 141h172M1227 150h5M1227 151h5M1144 152h49M1144 153h49M1117 154h15M1203 155h29M1203 156h29M1159 157h4M1159 158h4M934 189h28M950 190h2M950 191h2M928 192h8M928 193h8M938 194h5M685 195h27M685 196h27M622 197h4M622 198h4M635 199h7M569 200h4M569 201h4M562 202h10M562 203h10M555 205h2M555 206h2M597 210h164M597 211h164M534 212h1M534 213h1M550 214h682M429 227h1M429 228h1M1059 241h1M1135 246h77M1116 252h14M1116 253h14M1203 254h29M1203 255h29M1113 256h4M1032 262h36M1032 263h36M995 284h2M995 285h2M928 287h17M928 288h17M727 289h192M727 290h192M619 291h1M610 292h3M610 293h3M604 294h3M604 295h3M568 296h5M556 297h3M556 298h3M571 299h6M571 300h6M552 301h3M541 306h56M458 307h75M458 308h75M1137 309h7M1137 310h7M438 312h628M438 313h628M1163 314h2M1163 315h2M1113 316h1M429 319h8M1111 319h44M429 320h8M1111 320h44M1055 323h7M1049 326h7M1049 327h7M1144 329h39M1144 330h39M1130 331h11M1130 332h11M1156 333h12M1152 334h7M1152 335h7M1044 336h3M1106 336h7M1044 337h3M1106 337h7M1160 338h13M371 341h4M995 341h4M371 342h4M995 342h4M934 343h20M926 346h13M926 347h13M619 348h88M613 349h4M1058 349h6M613 350h4M1058 350h6M578 351h8M578 352h8M1056 353h1M596 356h4M596 357h4M1064 358h4M1176 358h32M1224 359h8M1224 360h8M924 361h8M1110 361h22M924 362h8M1110 362h22M698 363h2M1142 363h8M457 364h17M1148 364h18M457 365h17M1148 365h18M610 366h8M967 366h3M1099 366h13M610 367h8M967 367h3M1099 367h13M959 368h2M1103 368h10M613 369h9M958 369h3M1109 369h44M613 370h9M958 370h3M1109 370h44M502 371h6M502 372h6M808 374h7M1028 374h3M808 375h7M1028 375h3M425 376h2M491 376h17M797 376h36M1045 376h3M425 377h2M491 377h17M797 377h36M1045 377h3M531 378h1M806 378h15M575 379h2M1231 379h1M575 380h2M1231 380h1M605 381h14M1067 381h25M605 382h14M1067 382h25M457 383h2M1121 384h22M1121 385h22M438 388h5M1070 388h4M962 391h33M962 392h33M669 393h7M981 393h2M493 394h9M692 394h5M976 394h12M493 395h9M692 395h5M976 395h12M340 396h9M438 396h3M514 396h3M677 396h1M947 396h20M340 397h9M438 397h3M514 397h3M677 397h1M947 397h20M420 398h5M604 398h4M940 398h2M530 399h1M575 399h5M530 400h1M575 400h5M509 401h25M509 402h25M507 403h4M557 404h1M557 405h1M280 406h12M512 406h7M280 407h12M512 407h7M536 408h15M536 409h15M550 410h3M473 411h58M473 412h58M533 413h1M533 414h1M349 415h19M441 415h9M408 416h1M408 417h1M480 418h5M480 419h5M498 420h10M372 423h11M491 423h4M372 424h11M491 424h4M299 425h27M468 425h21M409 426h1M409 427h1M296 433h7M458 433h93M296 434h7M458 434h93M435 440h606M413 441h25M413 442h25M353 445h18M1104 448h8M1104 449h8M1109 450h6M1034 451h44M1034 452h44M239 453h12M239 454h12M962 468h33M962 469h33M473 470h2M293 471h9M293 472h9M622 475h14M577 476h1M577 477h1M561 478h1M561 479h1M530 480h26M558 481h11M558 482h11M552 483h3M552 484h3M539 486h9M539 487h9M455 488h2M455 489h2M434 495h798M434 496h798M213 525h11M213 526h11M1064 537h71M1067 540h25M1067 541h25M1183 542h16M1152 543h7M1152 544h7M1146 545h5M1146 546h5M1096 550h136M1096 551h136M963 567h2M715 568h12M715 569h12M620 570h2M620 571h2M586 572h18M524 573h32M524 574h32M558 575h12M558 576h12M529 577h16M448 582h9M448 583h9M302 614h4M212 615h10M212 616h10"/><path stroke="#3e4888" d="M1064 147h70M1064 148h70M1193 152h32M1193 153h32M1132 154h9M1163 157h38M1163 158h38M962 189h2M952 190h11M952 191h11M936 192h5M936 193h5M943 194h1M712 195h9M712 196h9M626 197h10M626 198h10M642 199h7M573 200h5M573 201h5M572 202h10M572 203h10M599 204h28M557 205h12M557 206h12M761 210h5M761 211h5M535 212h2M535 213h2M430 227h2M430 228h2M384 229h24M1212 246h20M1064 247h70M1064 248h70M1130 252h11M1130 253h11M1117 256h23M1067 261h10M1068 262h10M1068 263h10M997 284h2M997 285h2M929 286h1M945 287h2M945 288h2M919 289h16M919 290h16M620 291h21M613 292h9M613 293h9M607 294h5M607 295h5M573 296h2M559 297h3M559 298h3M577 299h13M577 300h13M598 304h165M598 305h165M533 307h3M533 308h3M1144 309h39M1144 310h39M1165 314h7M1165 315h7M1114 316h10M1155 319h77M1155 320h77M1056 321h3M1056 322h3M384 323h25M1062 323h16M1056 326h8M1056 327h8M1183 329h21M1183 330h21M1141 331h7M1141 332h7M1168 333h13M1159 334h3M1159 335h3M1047 336h2M1113 336h21M1047 337h2M1113 337h21M1173 338h21M1077 339h17M1077 340h17M375 341h62M999 341h6M375 342h62M999 342h6M954 343h9M939 346h2M939 347h2M707 348h5M1063 348h3M617 349h3M617 350h3M586 351h14M586 352h14M560 353h1M1057 353h2M1005 354h6M1005 355h6M600 356h1M600 357h1M1068 358h1M1208 358h18M932 361h21M1132 361h5M932 362h21M1132 362h5M700 363h5M1150 363h43M1166 364h10M1166 365h10M618 366h80M970 366h6M1112 366h1M618 367h80M970 367h6M1112 367h1M961 368h18M1113 368h33M622 369h8M961 369h28M1153 369h6M622 370h8M961 370h28M1153 370h6M508 371h1M1094 371h1M508 372h1M1094 372h1M1061 373h34M407 374h6M558 374h8M815 374h10M1031 374h2M407 375h6M558 375h8M815 375h10M1031 375h2M427 376h1M508 376h4M1048 376h2M427 377h1M508 377h4M1048 377h2M384 378h25M532 378h1M821 378h31M577 379h1M577 380h1M1092 381h40M1092 382h40M459 383h10M1143 384h13M1143 385h13M1074 388h6M1067 389h9M1067 390h9M995 391h4M995 392h4M407 393h6M676 393h4M983 393h2M502 394h5M697 394h6M988 394h9M502 395h5M697 395h6M988 395h9M349 396h5M517 396h8M532 396h1M678 396h6M967 396h3M349 397h5M517 397h8M532 397h1M678 397h6M967 397h3M425 398h9M485 398h2M608 398h7M942 398h1M531 399h1M580 399h14M531 400h1M580 400h14M534 401h7M534 402h7M511 403h2M558 404h7M558 405h7M292 406h10M384 406h1M519 406h6M292 407h10M384 407h1M519 407h6M551 408h4M551 409h4M553 410h40M531 411h4M531 412h4M534 413h16M534 414h16M368 415h2M450 415h3M409 416h6M409 417h6M485 418h15M485 419h15M508 420h1M495 423h16M495 424h16M489 425h23M410 426h1M410 427h1M438 428h5M438 429h5M448 431h9M448 432h9M303 433h4M551 433h500M303 434h4M551 434h500M327 435h1M1060 435h2M1041 440h2M371 445h13M1112 448h43M1112 449h43M1115 450h117M1078 451h17M1078 452h17M251 453h10M251 454h10M327 461h5M327 462h5M995 468h4M995 469h4M302 471h172M302 472h172M698 473h5M698 474h5M636 475h10M578 476h22M578 477h22M562 478h7M562 479h7M556 480h3M569 481h19M569 482h19M555 483h39M555 484h39M548 486h45M548 487h45M457 488h2M457 489h2M327 517h2M224 525h13M224 526h13M1135 537h73M1092 540h41M1092 541h41M1199 542h6M1159 543h3M1159 544h3M1151 545h9M1151 546h9M932 565h21M932 566h21M965 567h10M727 568h194M727 569h194M622 570h19M622 571h19M604 572h2M556 573h2M556 574h2M570 575h7M570 576h7M545 577h9M457 582h2M457 583h2M327 607h4M327 608h4M306 614h926M222 615h13M222 616h13"/><path stroke="#3d4c8a" d="M1134 147h74M1134 148h74M1225 152h7M1225 153h7M1141 154h21M1201 157h31M1201 158h31M964 189h11M941 192h6M941 193h6M944 194h24M721 195h8M721 196h8M636 197h10M636 198h10M649 199h3M578 200h6M578 201h6M582 202h7M582 203h7M627 204h40M569 205h21M569 206h21M595 207h1M595 208h1M766 210h37M766 211h37M537 212h11M537 213h11M432 227h800M432 228h800M1060 241h1M1134 247h72M1134 248h72M1141 252h21M1141 253h21M1140 256h13M1077 261h17M1078 262h15M1078 263h15M1006 264h8M1006 265h8M999 284h233M999 285h233M930 286h18M947 287h10M947 288h10M935 289h2M935 290h2M641 291h43M612 294h9M612 295h9M575 296h4M562 297h10M562 298h10M590 299h6M590 300h6M555 301h40M763 304h37M763 305h37M597 306h165M536 307h228M536 308h228M1183 309h22M1183 310h22M1172 314h9M1172 315h9M1124 316h27M438 317h596M438 318h596M1059 321h1M1059 322h1M1078 323h17M1204 329h15M1204 330h15M1148 331h14M1148 332h14M1181 333h3M1162 334h3M1162 335h3M1049 336h2M1134 336h1M1049 337h2M1134 337h1M1194 338h14M1005 341h16M1005 342h16M963 343h1M941 346h5M941 347h5M712 348h2M620 349h2M1064 349h2M620 350h2M1064 350h2M600 351h5M600 352h5M561 353h6M1059 353h1M1011 354h6M1011 355h6M601 356h29M601 357h29M1226 358h6M953 361h8M1137 361h8M953 362h8M1137 362h8M705 363h132M1193 363h32M474 364h1M1176 364h5M474 365h1M1176 365h5M976 366h13M1113 366h1M976 367h13M1113 367h1M979 368h8M1146 368h5M630 369h8M989 369h9M1159 369h73M630 370h8M989 370h9M1159 370h73M509 371h15M1095 371h2M509 372h15M1095 372h2M1095 373h10M413 374h6M566 374h11M825 374h7M1033 374h17M413 375h6M566 375h11M825 375h7M1033 375h17M428 376h1M833 376h18M428 377h1M833 377h18M533 378h3M852 378h18M578 379h15M578 380h15M1132 381h5M1132 382h5M470 383h1M1066 383h20M1156 384h8M1156 385h8M1080 388h16M1076 389h1M1076 390h1M999 391h24M999 392h24M413 393h24M680 393h10M985 393h1M507 394h4M703 394h1M997 394h6M507 395h4M703 395h1M997 395h6M354 396h9M525 396h1M684 396h14M970 396h2M354 397h9M525 397h1M684 397h14M970 397h2M615 398h1M943 398h3M532 399h2M594 399h4M532 400h2M594 400h4M541 401h17M541 402h17M513 403h8M565 404h12M565 405h12M302 406h81M525 406h3M302 407h81M525 407h3M555 408h39M555 409h39M550 413h148M550 414h148M370 415h4M453 415h21M415 416h8M415 417h8M500 418h6M500 419h6M509 420h62M511 423h3M511 424h3M411 426h1M411 427h1M593 430h4M457 431h3M457 432h3M328 435h4M1062 435h170M1043 440h90M1155 448h5M1155 449h5M1095 451h10M1095 452h10M261 453h16M261 454h16M332 461h6M332 462h6M999 468h233M999 469h233M475 470h223M474 471h1M474 472h1M703 473h4M703 474h4M646 475h2M600 476h5M600 477h5M569 478h4M569 479h4M559 480h3M588 481h12M588 482h12M459 488h74M459 489h74M438 491h3M438 492h3M329 517h3M237 525h10M237 526h10M1061 533h1M1061 534h1M1208 537h24M1133 540h5M1133 541h5M1205 542h27M1162 543h2M1162 544h2M1160 545h14M1160 546h14M953 565h7M953 566h7M975 567h7M921 568h14M921 569h14M641 570h7M641 571h7M606 572h6M558 573h1M558 574h1M577 575h10M577 576h10M554 577h1M593 580h4M593 581h4M459 582h72M459 583h72M331 607h7M331 608h7M235 615h11M235 616h11"/><path stroke="#3b518a" d="M1208 147h18M1208 148h18M1162 154h7M438 184h487M975 189h8M963 190h2M963 191h2M947 192h10M947 193h10M968 194h2M729 195h173M729 196h173M646 197h3M646 198h3M652 199h13M584 200h6M584 201h6M589 202h12M589 203h12M667 204h10M590 205h10M590 206h10M803 210h32M803 211h32M548 212h289M548 213h289M408 229h1M1206 247h10M1206 248h10M1162 252h9M1162 253h9M1153 256h9M1093 262h4M1093 263h4M1014 264h3M1014 265h3M438 281h35M948 286h4M957 287h7M957 288h7M937 289h4M937 290h4M684 291h26M622 292h4M622 293h4M621 294h14M621 295h14M579 296h6M572 297h11M572 298h11M596 299h4M596 300h4M595 301h28M800 304h35M800 305h35M762 306h75M764 307h275M764 308h275M1205 309h22M1205 310h22M1067 311h55M1181 314h22M1181 315h22M1151 316h19M1034 317h19M1034 318h19M1060 321h1M1060 322h1M409 323h1M1095 323h1M1219 329h9M1219 330h9M1162 331h21M1162 332h21M1184 333h20M1165 334h16M1165 335h16M1135 336h16M1135 337h16M438 338h492M1208 338h14M1094 339h5M1094 340h5M1021 341h13M1021 342h13M964 343h14M946 346h18M946 347h18M714 348h3M605 351h2M605 352h2M567 353h5M1060 353h1M1017 354h1M1017 355h1M630 356h1M630 357h1M438 358h28M1069 358h4M961 361h3M1145 361h48M961 362h3M1145 362h48M837 363h89M1225 363h7M475 364h6M1181 364h5M475 365h6M1181 365h5M989 366h7M1114 366h6M989 367h7M1114 367h6M987 368h13M1151 368h6M638 369h5M638 370h5M524 371h34M1097 371h12M524 372h34M1097 372h12M1105 373h127M419 374h18M832 374h32M419 375h18M832 375h32M429 376h1M512 376h2M851 376h7M429 377h1M512 377h2M851 377h7M409 378h1M536 378h10M870 378h18M921 378h1M1137 381h5M1137 382h5M469 383h1M1086 383h36M1164 384h4M1164 385h4M1038 386h40M1038 387h40M443 388h1M1096 388h5M1077 389h2M1077 390h2M1023 391h14M1023 392h14M690 393h8M986 393h10M408 394h1M511 394h3M704 394h5M408 395h1M511 395h3M704 395h5M363 396h5M384 396h2M441 396h1M526 396h6M972 396h4M363 397h5M384 397h2M441 397h1M526 397h6M972 397h4M434 398h3M487 398h1M616 398h1M946 398h23M598 399h1M598 400h1M558 401h2M558 402h2M521 403h5M577 404h11M577 405h11M528 406h1M528 407h1M594 408h1M594 409h1M535 411h3M535 412h3M374 415h9M423 416h4M423 417h4M506 418h67M506 419h67M571 420h5M514 423h4M514 424h4M512 425h4M412 426h2M412 427h2M443 428h1M443 429h1M460 431h73M460 432h73M332 435h6M1039 438h2M1039 439h2M1133 440h4M1160 448h15M1160 449h15M1105 451h127M1105 452h127M277 453h8M277 454h8M338 461h1M338 462h1M707 473h4M707 474h4M648 475h44M605 476h3M605 477h3M573 478h2M573 479h2M562 480h10M594 483h1M594 484h1M533 488h3M533 489h3M332 517h8M247 525h10M247 526h10M1062 533h170M1062 534h170M1138 540h7M1138 541h7M1164 543h17M1164 544h17M1174 545h6M1174 546h6M438 562h487M960 565h2M960 566h2M982 567h4M935 568h4M935 569h4M648 570h36M648 571h36M612 572h9M559 573h1M559 574h1M587 575h4M587 576h4M555 577h2M597 580h164M597 581h164M531 582h2M531 583h2M338 607h1M338 608h1M246 615h14M246 616h14"/><path stroke="#39558b" d="M1226 147h6M1226 148h6M1169 154h14M983 189h1M965 190h10M965 191h10M957 192h9M957 193h9M970 194h10M902 195h17M902 196h17M649 197h38M649 198h38M665 199h30M590 200h13M590 201h13M601 202h22M601 203h22M677 204h64M600 205h1M600 206h1M596 207h1M596 208h1M837 212h395M837 213h395M1061 241h171M1216 247h16M1216 248h16M1171 252h29M1171 253h29M1162 256h6M1097 262h12M1097 263h12M1017 264h4M1017 265h4M952 286h11M964 287h7M964 288h7M941 289h2M941 290h2M710 291h4M626 292h9M626 293h9M635 294h5M635 295h5M585 296h17M583 297h6M583 298h6M623 301h50M837 306h202M1227 309h5M1227 310h5M1122 311h10M1203 314h29M1203 315h29M1170 316h8M1053 317h2M1053 318h2M410 323h1M1096 323h113M1064 326h71M1064 327h71M1228 329h4M1228 330h4M1183 331h18M1183 332h18M1204 333h5M1181 334h32M1181 335h32M1151 336h4M1151 337h4M930 338h1M1222 338h10M1099 339h11M1099 340h11M1034 341h4M1034 342h4M978 343h5M964 346h5M964 347h5M717 348h10M622 349h13M622 350h13M607 351h5M607 352h5M572 353h2M1018 354h6M1018 355h6M631 356h37M631 357h37M466 358h2M1073 358h10M964 361h33M1193 361h34M964 362h33M1193 362h34M926 363h3M481 364h1M1186 364h17M481 365h1M1186 365h17M996 366h4M1120 366h20M996 367h4M1120 367h20M1157 368h16M643 369h6M998 369h1M643 370h6M998 370h1M558 371h2M1109 371h123M558 372h2M1109 372h123M577 374h10M864 374h15M577 375h10M864 375h15M514 376h8M858 376h11M1050 376h10M514 377h8M858 377h11M1050 377h10M546 378h5M888 378h17M1039 378h3M619 379h2M619 380h2M1142 381h40M1142 382h40M1122 383h10M1168 384h11M1168 385h11M1078 386h5M1078 387h5M444 388h1M1101 388h6M1079 389h15M1079 390h15M996 393h1M514 394h4M709 394h22M1003 394h1M514 395h4M709 395h22M1003 395h1M368 396h2M698 396h5M976 396h5M368 397h2M698 397h5M976 397h5M488 398h15M617 398h1M969 398h10M560 401h4M560 402h4M526 403h7M588 404h4M588 405h4M529 406h16M529 407h16M538 411h9M538 412h9M474 415h9M427 416h3M427 417h3M573 418h31M573 419h31M576 420h2M518 423h5M518 424h5M516 425h9M414 426h7M414 427h7M444 428h1M444 429h1M597 430h169M533 431h2M533 432h2M1051 433h1M1051 434h1M338 435h5M438 436h11M438 437h11M1137 440h46M327 443h11M327 444h11M1175 448h57M1175 449h57M285 453h11M285 454h11M339 461h15M339 462h15M475 471h6M475 472h6M711 473h4M711 474h4M692 475h20M608 476h9M608 477h9M575 478h4M575 479h4M572 480h5M600 481h23M600 482h23M593 486h4M593 487h4M536 488h228M536 489h228M340 517h24M257 525h7M257 526h7M1145 540h41M1145 541h41M1181 543h1M1181 544h1M1180 545h52M1180 546h52M962 565h2M962 566h2M986 567h6M939 568h2M939 569h2M684 570h28M684 571h28M621 572h1M560 573h1M560 574h1M591 575h1M591 576h1M761 580h35M761 581h35M533 582h2M533 583h2M438 585h3M438 586h3M339 607h11M339 608h11M260 615h13M260 616h13"/><path stroke="#37598c" d="M1183 154h14M925 184h5M984 189h13M975 190h7M975 191h7M966 192h7M966 193h7M980 194h10M919 195h21M919 196h21M687 197h8M687 198h8M695 199h1M603 200h18M603 201h18M623 202h4M623 203h4M741 204h14M601 205h22M601 206h22M597 207h73M597 208h73M835 210h2M835 211h2M438 219h794M409 229h5M1038 251h4M1200 252h28M1200 253h28M1168 256h64M1094 261h5M1109 262h123M1109 263h123M1021 264h7M1021 265h7M473 281h452M971 287h5M971 288h5M943 289h6M943 290h6M714 291h4M635 292h9M635 293h9M640 294h4M640 295h4M602 296h19M589 297h2M589 298h2M600 299h1M600 300h1M673 301h6M835 304h2M835 305h2M1132 311h16M1066 312h8M1066 313h8M1178 316h54M1055 317h13M1055 318h13M411 323h1M1209 323h23M1135 326h75M1135 327h75M1201 331h27M1201 332h27M1209 333h23M1213 334h19M1213 335h19M1155 336h19M1155 337h19M931 338h28M1110 339h19M1110 340h19M983 343h2M969 346h4M969 347h4M727 348h3M635 349h9M635 350h9M612 351h9M612 352h9M574 353h1M1061 353h5M1024 354h14M1024 355h14M668 356h10M668 357h10M468 358h19M1083 358h12M997 361h6M1227 361h5M997 362h6M1227 362h5M929 363h19M482 364h20M1203 364h29M482 365h20M1203 365h29M1000 366h1M1140 366h12M1000 367h1M1140 367h12M1173 368h6M649 369h16M999 369h1M649 370h16M999 370h1M560 371h1M560 372h1M438 373h31M587 374h5M879 374h11M1050 374h4M587 375h5M879 375h11M1050 375h4M430 376h2M522 376h3M869 376h11M430 377h2M522 377h3M869 377h11M410 378h1M551 378h2M905 378h14M1042 378h2M593 379h1M621 379h7M593 380h1M621 380h7M1182 381h16M1182 382h16M1132 383h2M1179 384h2M1179 385h2M1083 386h10M1083 387h10M445 388h16M466 388h2M1107 388h9M1094 389h5M1094 390h5M1037 391h31M1037 392h31M997 393h8M409 394h5M518 394h4M1004 394h1M409 395h5M518 395h4M1004 395h1M370 396h4M386 396h17M703 396h3M981 396h6M370 397h4M386 397h17M703 397h3M981 397h6M503 398h5M618 398h1M979 398h14M599 399h8M599 400h8M564 401h7M564 402h7M533 403h2M592 404h4M592 405h4M545 406h9M545 407h9M593 410h1M547 411h50M547 412h50M698 413h5M698 414h5M483 415h20M604 418h7M604 419h7M578 420h22M438 421h33M438 422h33M523 423h7M523 424h7M525 425h20M421 426h3M421 427h3M445 428h1M445 429h1M766 430h41M535 431h13M535 432h13M449 436h596M449 437h596M1041 438h4M1041 439h4M1183 440h22M338 443h11M338 444h11M296 453h7M296 454h7M354 461h4M354 462h4M438 466h35M438 467h35M698 470h1M481 471h1M481 472h1M715 473h12M715 474h12M712 475h6M617 476h5M617 477h5M579 478h5M579 479h5M577 480h8M623 481h8M623 482h8M595 483h1M595 484h1M597 486h164M597 487h164M764 488h468M764 489h468M441 491h10M441 492h10M364 517h7M264 525h15M264 526h15M1186 540h34M1186 541h34M1182 543h50M1182 544h50M925 562h5M964 565h14M964 566h14M992 567h5M941 568h5M941 569h5M712 570h5M712 571h5M622 572h8M561 573h2M561 574h2M592 575h4M592 576h4M557 577h33M796 580h39M796 581h39M535 582h3M535 583h3M350 607h6M350 608h6M273 615h8M273 616h8"/><path stroke="#355e8c" d="M1197 154h8M930 184h29M997 189h235M982 190h3M982 191h3M973 192h13M973 193h13M990 194h242M940 195h6M940 196h6M695 197h25M695 198h25M696 199h20M621 200h8M621 201h8M627 202h5M627 203h5M755 204h26M623 205h34M623 206h34M670 207h62M670 208h62M837 210h12M837 211h12M414 229h3M1042 251h23M1228 252h4M1228 253h4M1099 261h12M1028 264h3M1028 265h3M925 281h5M963 286h2M976 287h12M976 288h12M949 289h19M949 290h19M718 291h8M644 292h4M644 293h4M644 294h2M644 295h2M621 296h5M591 297h1M591 298h1M601 299h29M601 300h29M679 301h54M837 304h28M837 305h28M1039 307h2M1039 308h2M1148 311h52M1074 312h1M1074 313h1M412 323h2M1210 326h21M1210 327h21M1228 331h4M1228 332h4M1174 336h32M1174 337h32M959 338h81M1129 339h4M1129 340h4M985 343h12M973 346h8M973 347h8M730 348h174M644 349h4M644 350h4M621 351h3M621 352h3M575 353h4M678 356h66M678 357h66M487 358h1M948 363h8M502 364h48M502 365h48M1152 366h5M1152 367h5M1179 368h53M665 369h23M665 370h23M561 371h2M561 372h2M890 374h9M890 375h9M432 376h5M525 376h1M880 376h7M1060 376h2M432 377h5M525 377h1M880 377h7M1060 377h2M411 378h4M553 378h15M919 378h1M1044 378h2M594 379h4M628 379h10M594 380h4M628 380h10M1198 381h29M1198 382h29M1134 383h14M1181 384h5M1181 385h5M1093 386h6M1093 387h6M461 388h5M1116 388h31M1099 389h11M1099 390h11M1068 391h9M1068 392h9M698 393h1M1005 393h1M414 394h2M522 394h4M731 394h1M1005 394h1M414 395h2M522 395h4M731 395h1M1005 395h1M374 396h9M403 396h6M706 396h3M987 396h3M374 397h9M403 397h6M706 397h3M987 397h3M508 398h5M619 398h1M993 398h9M607 399h5M607 400h5M571 401h2M571 402h2M535 403h3M596 404h3M596 405h3M554 406h1M554 407h1M595 408h1M595 409h1M594 410h4M703 413h1M703 414h1M503 415h48M430 416h2M430 417h2M611 418h4M611 419h4M600 420h4M471 421h6M471 422h6M530 423h26M530 424h26M545 425h12M424 426h6M424 427h6M446 428h17M446 429h17M807 430h29M548 431h214M548 432h214M1052 433h1M1052 434h1M1045 436h5M1045 437h5M1045 438h2M1045 439h2M1205 440h15M349 443h14M349 444h14M303 453h700M303 454h700M358 461h11M358 462h11M473 466h449M473 467h449M699 470h2M482 471h20M482 472h20M727 473h192M727 474h192M718 475h7M622 476h13M622 477h13M584 478h18M584 479h18M585 480h4M631 481h32M631 482h32M761 486h35M761 487h35M451 491h781M451 492h781M371 517h861M279 525h3M279 526h3M1220 540h12M1220 541h12M930 562h1M978 565h5M978 566h5M997 567h235M946 568h20M946 569h20M717 570h6M717 571h6M630 572h9M563 573h9M563 574h9M596 575h3M596 576h3M590 577h5M538 582h12M538 583h12M441 585h791M441 586h791M356 607h12M356 608h12M281 615h5M281 616h5"/><path stroke="#33628d" d="M1205 154h25M959 184h273M985 190h1M985 191h1M986 192h6M986 193h6M946 195h33M946 196h33M720 197h5M720 198h5M716 199h21M629 200h16M629 201h16M781 204h19M657 205h14M657 206h14M849 210h383M849 211h383M417 229h6M1111 261h121M1031 264h2M1031 265h2M930 281h2M965 286h16M988 287h6M988 288h6M968 289h4M968 290h4M726 291h3M648 292h9M648 293h9M646 294h4M646 295h4M626 296h2M592 297h7M592 298h7M630 299h1M630 300h1M733 301h21M865 304h175M865 305h175M1200 311h5M1068 317h1M1068 318h1M1061 321h7M1061 322h7M414 323h8M1231 326h1M1231 327h1M1206 336h4M1206 337h4M1040 338h1M997 343h8M981 346h6M981 347h6M904 348h31M624 351h11M624 352h11M579 353h6M744 356h13M744 357h13M488 358h34M956 363h9M550 364h147M698 364h11M550 365h147M698 365h11M1157 366h4M1157 367h4M688 369h6M688 370h6M563 371h4M563 372h4M469 373h6M592 374h4M899 374h22M1054 374h1M592 375h4M899 375h22M1054 375h1M526 376h2M887 376h32M526 377h2M887 377h32M415 378h8M568 378h26M920 378h1M1046 378h1M598 379h2M638 379h5M598 380h2M638 380h5M1227 381h5M1227 382h5M1148 383h14M1186 384h17M1186 385h17M1099 386h1M1099 387h1M1147 388h8M1110 389h5M1110 390h5M1077 391h16M1077 392h16M699 393h6M1006 393h5M416 394h3M526 394h3M416 395h3M526 395h3M709 396h2M990 396h4M709 397h2M990 397h4M513 398h9M620 398h3M1002 398h17M612 399h10M612 400h10M573 401h5M573 402h5M538 403h18M555 406h2M555 407h2M596 408h1M596 409h1M597 411h102M597 412h102M704 413h1M704 414h1M551 415h65M432 416h3M432 417h3M615 418h4M615 419h4M604 420h2M477 421h2M477 422h2M556 423h3M556 424h3M430 426h13M430 427h13M463 428h26M463 429h26M836 430h2M762 431h470M762 432h470M1053 433h3M1053 434h3M1050 436h12M1050 437h12M1047 438h2M1047 439h2M1220 440h11M363 443h8M363 444h8M1003 453h1M1003 454h1M369 461h3M369 462h3M922 466h3M922 467h3M701 470h4M502 471h195M502 472h195M919 473h2M919 474h2M725 475h4M635 476h5M635 477h5M602 478h3M602 479h3M589 480h3M663 481h10M663 482h10M596 483h1M596 484h1M796 486h39M796 487h39M282 525h10M282 526h10M983 565h12M983 566h12M966 568h3M966 569h3M723 570h6M723 571h6M639 572h4M572 573h2M572 574h2M599 575h3M599 576h3M595 577h5M835 580h2M835 581h2M550 582h252M550 583h252M368 607h4M368 608h4M286 615h9M286 616h9"/><path stroke="#32678e" d="M1230 154h2M986 190h5M986 191h5M992 192h5M992 193h5M979 195h253M979 196h253M725 197h59M725 198h59M737 199h156M645 200h2M645 201h2M632 202h1M632 203h1M800 204h25M671 205h7M671 206h7M732 207h1M732 208h1M423 229h6M1065 251h2M1033 264h62M1033 265h62M981 286h2M994 287h3M994 288h3M972 289h7M972 290h7M729 291h1M657 292h31M657 293h31M650 294h5M650 295h5M628 296h1M599 297h2M599 298h2M631 299h32M631 300h32M754 301h17M1040 304h10M1040 305h10M1041 307h5M1041 308h5M1205 311h27M1068 321h9M1068 322h9M422 323h2M1210 336h16M1210 337h16M1133 339h4M1133 340h4M1005 343h1M987 346h7M987 347h7M935 348h5M648 349h33M648 350h33M635 351h4M635 352h4M585 353h5M757 356h26M757 357h26M522 358h6M965 363h15M697 364h1M709 364h2M697 365h1M709 365h2M1161 366h3M1161 367h3M694 369h2M694 370h2M567 371h6M567 372h6M475 373h3M528 376h1M919 376h2M1062 376h1M528 377h1M919 377h2M1062 377h1M423 378h2M1047 378h2M600 379h5M643 379h6M600 380h5M643 380h6M1162 383h21M1203 384h29M1203 385h29M1100 386h13M1100 387h13M1155 388h18M1115 389h43M1115 390h43M1093 391h1M1093 392h1M705 393h26M1011 393h5M419 394h6M529 394h2M1006 394h6M419 395h6M529 395h2M1006 395h6M409 396h2M711 396h2M761 396h1M994 396h2M409 397h2M711 397h2M761 397h1M994 397h2M522 398h5M623 398h25M1019 398h1M578 401h6M578 402h6M556 403h3M599 404h13M599 405h13M557 406h33M557 407h33M597 408h2M597 409h2M598 410h103M705 413h97M705 414h97M616 415h81M435 416h3M435 417h3M619 418h3M619 419h3M606 420h6M479 421h8M479 422h8M559 423h7M559 424h7M557 425h1M489 428h21M489 429h21M838 430h215M1056 433h1M1056 434h1M1062 436h1M1062 437h1M1049 438h14M1049 439h14M1231 440h1M371 443h6M371 444h6M372 461h628M372 462h628M925 466h7M925 467h7M705 470h219M921 473h15M921 474h15M729 475h1M640 476h4M640 477h4M605 478h16M605 479h16M592 480h4M673 481h5M673 482h5M597 483h79M597 484h79M835 486h1M835 487h1M292 525h8M292 526h8M931 562h28M995 565h4M995 566h4M969 568h4M969 569h4M729 570h1M729 571h1M643 572h6M574 573h1M574 574h1M602 575h23M602 576h23M837 580h36M837 581h36M802 582h430M802 583h430M372 607h860M372 608h860M295 615h5M295 616h5"/><path stroke="#306a8e" d="M991 190h241M991 191h241M997 192h235M997 193h235M784 197h123M784 198h123M893 199h21M647 200h4M647 201h4M633 202h1M633 203h1M825 204h34M678 205h58M678 206h58M733 207h9M733 208h9M429 229h1M1095 264h137M1095 265h137M932 281h27M983 286h2M997 287h235M997 288h235M979 289h7M979 290h7M730 291h175M688 292h6M688 293h6M655 294h28M655 295h28M629 296h16M601 297h11M601 298h11M663 299h12M663 300h12M771 301h26M1039 306h3M1046 307h3M1046 308h3M1075 312h41M1075 313h41M1069 317h1M1069 318h1M424 323h3M1226 336h6M1226 337h6M1041 338h4M1137 339h5M1137 340h5M994 346h3M994 347h3M940 348h3M681 349h8M681 350h8M639 351h4M639 352h4M590 353h13M1066 353h1M783 356h8M783 357h8M528 358h17M980 363h3M711 364h91M711 365h91M1164 366h6M1164 367h6M696 369h2M696 370h2M573 371h4M573 372h4M478 373h4M596 374h3M921 374h3M1055 374h7M596 375h3M921 375h3M1055 375h7M529 376h23M921 376h2M529 377h23M921 377h2M425 378h4M594 378h1M605 379h3M649 379h6M605 380h3M649 380h6M1183 383h18M1113 386h1M1113 387h1M1173 388h7M1158 389h74M1158 390h74M1094 391h1M1094 392h1M1016 393h14M425 394h2M1012 394h5M425 395h2M1012 395h5M411 396h3M713 396h2M996 396h11M411 397h3M713 397h2M996 397h11M527 398h1M648 398h26M1020 398h6M622 399h8M622 400h8M584 401h2M584 402h2M559 403h3M612 404h18M612 405h18M590 406h10M590 407h10M599 408h71M599 409h71M701 410h31M802 413h123M802 414h123M697 415h1M612 420h9M487 421h6M487 422h6M566 423h11M566 424h11M558 425h11M443 426h23M443 427h23M510 428h20M510 429h20M1053 430h2M1057 433h2M1057 434h2M1063 436h1M1063 437h1M1063 438h1M1063 439h1M377 443h31M377 444h31M1004 453h1M1004 454h1M932 466h27M932 467h27M924 470h1M697 471h9M697 472h9M936 473h3M936 474h3M730 475h173M644 476h5M644 477h5M596 480h3M678 481h57M678 482h57M676 483h56M676 484h56M836 486h396M836 487h396M300 525h4M300 526h4M959 562h41M999 565h233M999 566h233M973 568h8M973 569h8M730 570h176M730 571h176M649 572h6M575 573h4M575 574h4M625 575h5M625 576h5M600 577h23M873 580h359M873 581h359M300 615h932M300 616h932"/><path stroke="#2e6e8e" d="M907 197h33M907 198h33M914 199h6M651 200h5M651 201h5M634 202h31M634 203h31M859 204h31M736 205h24M736 206h24M742 207h30M742 208h30M959 281h273M985 286h1M986 289h4M986 290h4M905 291h16M694 292h24M694 293h24M683 294h13M683 295h13M645 296h7M612 297h20M612 298h20M675 299h3M675 300h3M797 301h30M1050 304h10M1050 305h10M1042 306h2M1049 307h15M1049 308h15M1116 312h12M1116 313h12M1070 317h4M1070 318h4M1077 321h16M1077 322h16M427 323h10M1045 338h2M1142 339h11M1142 340h11M1006 343h3M997 346h10M997 347h10M943 348h2M689 349h21M689 350h21M643 351h6M643 352h6M603 353h18M791 356h27M791 357h27M545 358h10M983 363h3M802 364h124M802 365h124M1170 366h62M1170 367h62M577 371h1M577 372h1M482 373h5M552 376h2M1063 376h1M552 377h2M1063 377h1M429 378h1M595 378h1M1049 378h14M608 379h9M655 379h28M608 380h9M655 380h28M1201 383h4M1114 386h6M1114 387h6M1180 388h52M1095 391h10M1095 392h10M731 393h1M1030 393h6M427 394h1M1017 394h11M427 395h1M1017 395h11M414 396h8M715 396h12M414 397h8M715 397h12M528 398h1M674 398h3M1026 398h206M630 399h6M630 400h6M586 401h7M586 402h7M562 403h7M630 404h2M630 405h2M600 406h1M600 407h1M670 408h62M670 409h62M732 410h29M925 413h1M925 414h1M622 418h14M622 419h14M621 420h9M493 421h3M493 422h3M577 423h8M577 424h8M569 425h19M466 426h2M466 427h2M530 428h2M530 429h2M1055 430h1M1059 433h1M1059 434h1M1064 436h168M1064 437h168M1064 438h70M1064 439h70M1005 453h1M1005 454h1M1000 461h1M1000 462h1M959 466h24M959 467h24M925 470h4M706 471h4M706 472h4M939 473h4M939 474h4M903 475h16M649 476h8M649 477h8M621 478h6M621 479h6M735 481h15M735 482h15M384 500h24M384 501h24M304 525h928M304 526h928M981 568h8M981 569h8M906 570h15M906 571h15M655 572h23M579 573h6M579 574h6M630 575h2M630 576h2M623 577h8M384 594h26"/><path stroke="#2d728e" d="M940 197h292M940 198h292M920 199h22M656 200h6M656 201h6M665 202h4M665 203h4M890 204h18M760 205h15M760 206h15M772 207h22M772 208h22M438 209h5M430 229h802M1067 251h65M986 286h10M990 289h242M990 290h242M921 291h19M718 292h4M718 293h4M652 296h4M678 299h67M678 300h67M827 301h19M438 302h5M438 303h5M1044 306h2M1128 312h6M1128 313h6M1074 317h5M1074 318h5M1093 321h2M1093 322h2M1047 338h2M1153 339h30M1153 340h30M1009 343h5M945 348h23M710 349h10M710 350h10M649 351h6M649 352h6M621 353h6M818 356h15M818 357h15M555 358h40M438 359h5M438 360h5M986 363h14M926 364h5M926 365h5M578 371h2M578 372h2M487 373h5M599 374h8M1062 374h145M599 375h8M1062 375h145M554 376h1M554 377h1M430 378h7M438 378h5M1063 378h1M617 379h2M683 379h12M617 380h2M683 380h12M1205 383h27M1120 386h29M1120 387h29M1105 391h127M1105 392h127M1036 393h59M428 394h1M1028 394h5M428 395h1M1028 395h5M422 396h1M727 396h16M1007 396h4M422 397h1M727 397h16M1007 397h4M529 398h5M677 398h8M636 399h7M636 400h7M569 403h5M632 404h36M632 405h36M601 406h30M601 407h30M761 410h8M699 411h3M699 412h3M926 413h2M926 414h2M698 415h5M636 418h10M636 419h10M630 420h10M496 421h13M496 422h13M585 423h7M585 424h7M588 425h12M468 426h19M468 427h19M532 428h8M532 429h8M1056 430h176M1060 433h1M1060 434h1M1134 438h72M1134 439h72M408 443h1M408 444h1M1001 461h231M1001 462h231M983 466h15M983 467h15M710 471h211M710 472h211M943 473h2M943 474h2M919 475h21M657 476h26M657 477h26M627 478h2M627 479h2M599 480h3M750 481h25M750 482h25M732 483h1M732 484h1M438 485h5M408 500h1M408 501h1M1000 562h232M989 568h5M989 569h5M921 570h19M921 571h19M678 572h15M585 573h3M585 574h3M632 575h1M632 576h1M631 577h36M438 578h5M438 579h5M410 594h2"/><path stroke="#2b758e" d="M942 199h290M662 200h12M662 201h12M669 202h14M669 203h14M908 204h324M775 205h17M775 206h17M794 207h22M794 208h22M1132 251h6M996 286h236M722 292h7M722 293h7M696 294h21M696 295h21M656 296h5M632 297h1M632 298h1M745 299h11M745 300h11M846 301h8M1060 304h4M1060 305h4M1046 306h1M1064 307h70M1064 308h70M1134 312h27M1134 313h27M1079 317h3M1079 318h3M1095 321h2M1095 322h2M1049 338h2M1183 339h21M1183 340h21M1014 343h3M1007 346h12M1007 347h12M968 348h12M720 349h2M720 350h2M655 351h10M655 352h10M627 353h2M833 356h29M833 357h29M595 358h1M1000 363h1M931 364h4M931 365h4M580 371h4M580 372h4M492 373h2M607 374h5M1207 374h25M607 375h5M1207 375h25M555 376h2M555 377h2M596 378h1M695 379h1M695 380h1M1149 386h5M1149 387h5M1095 393h1M429 394h1M1033 394h199M429 395h1M1033 395h199M423 396h4M743 396h10M1011 396h6M423 397h4M743 397h10M1011 397h6M685 398h25M643 399h3M643 400h3M574 403h5M668 404h9M668 405h9M631 406h32M631 407h32M732 408h1M732 409h1M769 410h32M702 411h60M702 412h60M928 413h1M928 414h1M703 415h6M646 418h2M646 419h2M640 420h9M509 421h11M509 422h11M592 423h4M592 424h4M487 426h1M487 427h1M540 428h6M540 429h6M1206 438h20M1206 439h20M409 443h5M409 444h5M1006 453h3M1006 454h3M998 466h234M998 467h234M929 470h1M921 471h7M921 472h7M945 473h22M945 474h22M683 476h10M683 477h10M629 478h5M629 479h5M602 480h23M775 481h11M775 482h11M733 483h27M733 484h27M409 500h5M409 501h5M994 568h238M994 569h238M693 572h3M588 573h3M588 574h3M633 575h18M633 576h18M667 577h9M412 594h8"/><path stroke="#2a798e" d="M674 200h6M674 201h6M683 202h48M683 203h48M792 205h35M792 206h35M816 207h30M816 208h30M443 209h1M1138 251h10M940 291h3M729 292h163M729 293h163M717 294h20M717 295h20M661 296h4M756 299h22M756 300h22M854 301h14M1064 304h145M1064 305h145M1047 306h2M1134 307h51M1134 308h51M1161 312h3M1161 313h3M1082 317h14M1082 318h14M1097 321h12M1097 322h12M1204 339h1M1204 340h1M1017 343h11M1019 346h19M1019 347h19M980 348h13M722 349h7M722 350h7M665 351h29M665 352h29M629 353h5M862 356h24M862 357h24M596 358h64M443 359h1M443 360h1M1001 363h1M935 364h10M935 365h10M584 371h6M584 372h6M494 373h13M612 374h4M612 375h4M1064 376h168M1064 377h168M443 378h1M696 379h2M696 380h2M1154 386h8M1154 387h8M1096 393h136M430 394h2M430 395h2M427 396h2M753 396h8M427 397h2M753 397h8M710 398h2M646 399h3M646 400h3M438 401h2M593 401h4M438 402h2M593 402h4M579 403h6M677 404h70M677 405h70M663 406h11M663 407h11M733 408h37M733 409h37M801 410h33M762 411h74M762 412h74M929 413h5M929 414h5M709 415h2M648 418h33M648 419h33M649 420h6M520 421h38M520 422h38M596 423h3M596 424h3M600 425h27M488 426h25M488 427h25M546 428h4M546 429h4M1061 433h171M1061 434h171M1226 438h6M1226 439h6M414 443h3M414 444h3M1009 453h5M1009 454h5M930 470h4M928 471h7M928 472h7M967 473h3M967 474h3M940 475h32M693 476h3M693 477h3M634 478h11M634 479h11M625 480h7M786 481h22M786 482h22M760 483h11M760 484h11M443 485h2M414 500h10M414 501h10M940 570h5M940 571h5M696 572h19M591 573h12M591 574h12M651 575h17M651 576h17M676 577h3M420 594h7"/><path stroke="#287d8e" d="M438 169h565M680 200h10M680 201h10M827 205h13M827 206h13M846 207h25M846 208h25M1148 251h56M943 291h8M892 292h28M892 293h28M737 294h156M737 295h156M665 296h9M633 297h18M633 298h18M778 299h7M778 300h7M868 301h17M1209 304h23M1209 305h23M1185 307h25M1185 308h25M1164 312h7M1164 313h7M1096 317h6M1096 318h6M1109 321h123M1109 322h123M438 324h565M438 325h565M1205 339h1M1205 340h1M1028 343h3M438 344h37M438 345h37M993 348h9M729 349h47M729 350h47M694 351h2M694 352h2M634 353h11M438 354h31M438 355h31M886 356h45M886 357h45M660 358h73M444 359h29M444 360h29M945 364h12M945 365h12M590 371h10M590 372h10M507 373h4M616 374h9M616 375h9M557 376h14M557 377h14M597 378h2M1064 378h70M1162 386h3M1162 387h3M432 394h3M432 395h3M429 396h1M1017 396h1M429 397h1M1017 397h1M712 398h2M649 399h29M649 400h29M597 401h7M597 402h7M585 403h6M747 404h28M747 405h28M674 406h4M674 407h4M770 408h19M770 409h19M834 410h1M836 411h2M836 412h2M934 413h14M934 414h14M711 415h210M681 418h29M681 419h29M655 420h28M558 421h2M558 422h2M599 423h2M599 424h2M627 425h30M513 426h14M513 427h14M550 428h2M550 429h2M417 443h8M417 444h8M1014 453h2M1014 454h2M934 470h16M935 471h10M935 472h10M970 473h6M970 474h6M972 475h21M645 478h2M645 479h2M808 481h18M808 482h18M771 483h23M771 484h23M445 485h1M424 500h6M424 501h6M438 552h565M945 570h33M945 571h33M715 572h7M603 573h18M603 574h18M668 575h9M668 576h9M679 577h56M443 578h1M443 579h1M427 594h805"/><path stroke="#27808e" d="M1003 169h1M690 200h41M690 201h41M731 202h29M731 203h29M840 205h14M840 206h14M871 207h361M871 208h361M444 209h1M1204 251h28M951 291h27M893 294h11M893 295h11M674 296h6M651 297h16M651 298h16M785 299h15M785 300h15M885 301h166M443 302h1M443 303h1M1049 306h13M1210 307h21M1210 308h21M1171 312h12M1171 313h12M1102 317h10M1102 318h10M1003 324h1M1003 325h1M1031 343h7M1002 348h18M776 349h122M776 350h122M645 353h2M733 358h34M473 359h1M473 360h1M957 364h9M957 365h9M600 371h4M600 372h4M625 374h5M625 375h5M571 376h19M571 377h19M444 378h19M599 378h5M1134 378h1M1165 386h38M1165 387h38M430 396h7M1018 396h6M430 397h7M1018 397h6M714 398h7M678 399h12M678 400h12M604 401h2M604 402h2M591 403h12M775 404h8M775 405h8M678 406h62M678 407h62M789 408h16M789 409h16M835 410h2M838 411h86M838 412h86M948 413h3M948 414h3M921 415h5M710 418h10M710 419h10M683 420h12M560 421h1M560 422h1M601 423h22M601 424h22M657 425h11M527 426h1M527 427h1M552 428h42M552 429h42M425 443h3M425 444h3M1016 453h9M1016 454h9M950 470h3M945 471h3M945 472h3M976 473h10M976 474h10M993 475h239M696 476h24M696 477h24M647 478h4M647 479h4M632 480h1M826 481h22M826 482h22M794 483h14M794 484h14M446 485h17M438 497h794M430 500h802M430 501h802M978 570h254M978 571h254M722 572h3M621 573h6M621 574h6M677 575h15M677 576h15M735 577h13M444 578h1M444 579h1"/><path stroke="#25848e" d="M731 200h12M731 201h12M760 202h26M760 203h26M854 205h15M854 206h15M445 209h16M978 291h15M920 292h20M920 293h20M904 294h13M904 295h13M680 296h7M667 297h6M667 298h6M800 299h15M800 300h15M444 302h19M444 303h19M1062 306h1M1231 307h1M1231 308h1M1183 312h6M1183 313h6M1112 317h35M1112 318h35M475 344h7M475 345h7M1020 348h18M898 349h17M898 350h17M696 351h20M696 352h20M647 353h4M931 356h69M931 357h69M767 358h39M1003 358h1M474 359h36M474 360h36M966 364h11M966 365h11M438 368h3M604 371h2M604 372h2M511 373h7M630 374h9M630 375h9M590 376h5M590 377h5M463 378h4M604 378h4M1135 378h71M1203 386h29M1203 387h29M435 394h2M435 395h2M1024 396h208M1024 397h208M721 398h5M690 399h5M690 400h5M606 401h11M606 402h11M603 403h23M783 404h22M783 405h22M740 406h18M740 407h18M805 408h16M805 409h16M837 410h23M924 411h6M924 412h6M951 413h2M951 414h2M926 415h9M720 418h5M720 419h5M695 420h1M561 421h8M561 422h8M623 423h9M623 424h9M668 425h9M528 426h3M528 427h3M594 428h4M594 429h4M428 443h2M428 444h2M1025 453h4M1025 454h4M953 470h9M948 471h9M948 472h9M986 473h8M986 474h8M720 476h3M720 477h3M651 478h3M651 479h3M848 481h10M848 482h10M808 483h25M808 484h25M463 485h1M1003 552h1M725 572h163M627 573h2M627 574h2M692 575h39M692 576h39M748 577h19M445 578h16M445 579h16"/><path stroke="#24888d" d="M1004 169h9M743 200h109M743 201h109M786 202h89M786 203h89M869 205h17M869 206h17M461 209h28M438 224h794M438 266h565M993 291h239M940 292h292M940 293h292M917 294h24M917 295h24M687 296h44M673 297h19M673 298h19M815 299h12M815 300h12M463 302h4M463 303h4M1189 312h15M1189 313h15M1147 317h11M1147 318h11M1004 324h1M1004 325h1M482 344h134M482 345h134M915 349h5M915 350h5M716 351h8M716 352h8M651 353h2M469 354h22M469 355h22M1000 356h2M1000 357h2M806 358h40M510 359h17M510 360h17M977 364h13M977 365h13M606 371h5M606 372h5M518 373h6M639 374h28M639 375h28M595 376h5M595 377h5M467 378h3M608 378h3M1206 378h4M726 398h2M695 399h23M695 400h23M617 401h4M617 402h4M626 403h6M805 404h21M805 405h21M758 406h17M758 407h17M821 408h45M821 409h45M860 410h25M930 411h2M930 412h2M953 413h10M953 414h10M935 415h4M725 418h4M725 419h4M696 420h20M569 421h5M569 422h5M677 425h2M531 426h21M531 427h21M598 428h1M598 429h1M430 443h2M430 444h2M1029 453h4M1029 454h4M962 470h1M957 471h7M957 472h7M994 473h238M994 474h238M723 476h165M723 477h165M654 478h5M654 479h5M633 480h21M858 481h14M858 482h14M833 483h17M833 484h17M464 485h25M888 572h19M629 573h4M629 574h4M767 577h7M461 578h6M461 579h6"/><path stroke="#238c8c" d="M1013 169h4M852 200h46M852 201h46M875 202h15M875 203h15M886 205h346M886 206h346M489 209h21M941 294h291M941 295h291M692 297h39M692 298h39M827 299h26M827 300h26M467 302h43M467 303h43M1063 306h143M1204 312h28M1204 313h28M1158 317h15M1158 318h15M1005 324h7M1005 325h7M616 344h88M616 345h88M920 349h20M920 350h20M724 351h164M724 352h164M653 353h5M491 354h2M491 355h2M1002 356h3M1002 357h3M846 358h23M527 359h5M527 360h5M990 364h7M990 365h7M441 368h31M611 371h10M611 372h10M524 373h32M667 374h1M667 375h1M611 378h2M1210 378h9M728 398h1M718 399h7M718 400h7M621 401h7M621 402h7M632 403h1M826 404h49M826 405h49M775 406h22M775 407h22M866 408h19M866 409h19M885 410h37M939 415h2M729 418h169M729 419h169M716 420h8M574 421h1M574 422h1M632 423h2M632 424h2M679 425h64M552 426h3M552 427h3M432 443h634M432 444h634M1033 453h199M1033 454h199M963 470h12M964 471h7M964 472h7M888 476h19M888 477h19M659 478h3M659 479h3M654 480h15M872 481h27M872 482h27M850 483h19M850 484h19M489 485h21M907 572h11M633 573h1M633 574h1M731 575h18M731 576h18M774 577h18M467 578h21M467 579h21M438 590h794M438 591h794"/><path stroke="#22908c" d="M438 160h633M438 161h633M1017 169h1M898 200h19M898 201h19M890 202h19M890 203h19M510 209h5M731 296h49M853 299h18M853 300h18M1051 301h1M510 302h3M510 303h3M1206 306h4M1173 317h59M1173 318h59M1012 324h3M1012 325h3M704 344h2M704 345h2M940 349h11M940 350h11M888 351h15M888 352h15M658 353h4M493 354h14M493 355h14M869 358h56M532 359h14M532 360h14M997 364h5M997 365h5M472 368h1M668 374h9M668 375h9M600 376h1M600 377h1M470 378h2M613 378h3M1219 378h13M729 398h1M725 399h4M725 400h4M628 401h1M628 402h1M633 403h1M875 404h15M875 405h15M797 406h30M797 407h30M885 408h40M885 409h40M922 410h1M932 411h2M932 412h2M963 413h2M963 414h2M941 415h5M898 418h21M898 419h21M724 420h169M575 421h9M575 422h9M634 423h32M634 424h32M743 425h16M599 428h133M599 429h133M975 470h6M971 471h4M971 472h4M907 476h11M907 477h11M662 478h8M662 479h8M669 480h13M899 481h333M899 482h333M869 483h16M869 484h16M510 485h7M438 547h629M1004 552h7M918 572h23M634 573h11M634 574h11M749 575h27M749 576h27M792 577h21M488 578h22M488 579h22"/><path stroke="#22948b" d="M1071 160h8M1071 161h8M1018 169h9M917 200h315M917 201h315M909 202h323M909 203h323M515 209h17M1003 266h1M780 296h102M731 297h11M731 298h11M871 299h15M871 300h15M513 302h4M513 303h4M1210 306h16M1015 324h18M1015 325h18M706 344h221M706 345h221M951 349h40M951 350h40M903 351h15M903 352h15M662 353h4M507 354h2M507 355h2M925 358h5M546 359h6M546 360h6M473 368h3M621 371h8M621 372h8M556 373h5M677 374h7M677 375h7M601 376h8M601 377h8M616 378h3M730 398h3M729 399h3M729 400h3M629 401h14M629 402h14M634 403h11M890 404h11M890 405h11M827 406h12M827 407h12M925 408h5M925 409h5M934 411h24M934 412h24M965 413h10M965 414h10M946 415h11M919 418h21M919 419h21M893 420h22M584 421h5M584 422h5M666 423h16M666 424h16M759 425h24M555 426h39M555 427h39M732 428h34M732 429h34M981 470h2M975 471h13M975 472h13M918 476h2M918 477h2M670 478h9M670 479h9M682 480h49M885 483h347M885 484h347M517 485h15M1011 552h2M941 572h1M645 573h2M645 574h2M776 575h7M776 576h7M813 577h20M510 578h3M510 579h3"/><path stroke="#21988a" d="M1079 160h5M1079 161h5M1027 169h205M532 209h1M438 257h630M438 258h630M882 296h24M742 297h33M742 298h33M886 299h15M886 300h15M517 302h14M517 303h14M1226 306h6M1033 324h7M1033 325h7M927 344h1M927 345h1M991 349h11M991 350h11M918 351h23M918 352h23M666 353h10M509 354h4M509 355h4M930 358h2M552 359h42M552 360h42M561 373h11M684 374h13M684 375h13M609 376h1M609 377h1M472 378h1M619 378h1M733 398h21M643 401h2M643 402h2M645 403h7M901 404h30M901 405h30M839 406h15M839 407h15M930 408h2M930 409h2M923 410h10M958 411h4M958 412h4M975 413h6M975 414h6M957 415h10M438 416h3M438 417h3M915 420h26M589 421h14M589 422h14M682 423h49M682 424h49M783 425h8M594 426h1M594 427h1M766 428h27M766 429h27M983 470h2M988 471h6M988 472h6M920 476h21M920 477h21M679 478h3M679 479h3M532 485h1M1013 552h4M942 572h290M647 573h5M647 574h5M783 575h12M783 576h12M833 577h14M513 578h14M513 579h14"/><path stroke="#209c89" d="M1084 160h25M1084 161h25M533 209h8M1004 266h4M906 296h12M775 297h15M775 298h15M901 299h156M901 300h156M1052 301h1M531 302h1M531 303h1M1040 324h8M1040 325h8M928 344h17M928 345h17M1002 349h1M1002 350h1M941 351h1M941 352h1M676 353h5M513 354h2M513 355h2M932 358h71M594 359h4M594 360h4M476 368h4M629 371h9M629 372h9M572 373h2M610 376h8M610 377h8M620 378h2M438 393h5M754 398h17M732 399h29M732 400h29M645 401h5M645 402h5M652 403h4M931 404h301M931 405h301M854 406h12M854 407h12M932 408h27M932 409h27M962 411h2M962 412h2M981 413h2M981 414h2M967 415h6M441 416h13M441 417h13M940 418h11M940 419h11M941 420h1M603 421h18M603 422h18M791 425h23M793 428h28M793 429h28M438 455h569M985 470h1M994 471h3M994 472h3M941 476h291M941 477h291M682 478h37M682 479h37M731 480h3M533 485h8M1067 547h9M652 573h4M652 574h4M795 575h29M795 576h29M847 577h7M527 578h4M527 579h4"/><path stroke="#20a088" d="M1109 160h50M1109 161h50M541 209h5M1068 257h1M1068 258h1M1008 266h1M918 296h138M790 297h84M790 298h84M1057 299h175M1057 300h175M1053 301h3M532 302h8M532 303h8M1048 324h2M1048 325h2M945 344h3M945 345h3M1003 349h15M1003 350h15M942 351h59M942 352h59M681 353h9M515 354h5M515 355h5M598 359h1M598 360h1M480 368h5M638 371h7M638 372h7M574 373h8M697 374h1M697 375h1M618 376h1M618 377h1M771 398h22M803 398h13M761 399h8M761 400h8M650 401h6M650 402h6M656 403h7M866 406h14M866 407h14M959 408h273M959 409h273M933 410h27M964 411h20M964 412h20M983 413h2M983 414h2M973 415h8M454 416h17M454 417h17M951 418h281M951 419h281M942 420h290M621 421h7M621 422h7M731 423h17M731 424h17M814 425h19M595 426h1M595 427h1M821 428h14M821 429h14M986 470h10M997 471h235M997 472h235M719 478h12M719 479h12M734 480h23M541 485h5M1017 552h1M656 573h5M656 574h5M824 575h25M824 576h25M854 577h10M531 578h2M531 579h2"/><path stroke="#23a386" d="M1159 160h21M1159 161h21M546 209h4M1009 266h3M1056 296h176M874 297h12M874 298h12M1056 301h2M540 302h11M540 303h11M948 344h8M948 345h8M1018 349h4M1018 350h4M1001 351h4M1001 352h4M690 353h41M520 354h6M520 355h6M599 359h133M599 360h133M645 371h1M645 372h1M582 373h7M622 378h4M793 398h10M816 398h17M769 399h12M769 400h12M656 401h14M656 402h14M663 403h6M880 406h51M880 407h51M960 410h1M984 411h13M984 412h13M985 413h3M985 414h3M981 415h6M471 416h5M471 417h5M628 421h5M628 422h5M748 423h28M748 424h28M833 425h25M596 426h1M596 427h1M835 428h19M835 429h19M1066 443h9M1066 444h9M384 445h25M1007 455h1M996 470h1M731 478h29M731 479h29M757 480h25M546 485h4M1076 547h3M1018 552h1M661 573h5M661 574h5M849 575h29M849 576h29M864 577h8M533 578h8M533 579h8"/><path stroke="#27a784" d="M1180 160h52M1180 161h52M550 209h2M1069 257h4M1069 258h4M1012 266h2M886 297h14M886 298h14M1058 301h1M551 302h2M551 303h2M1050 324h10M1050 325h10M956 344h7M956 345h7M1022 349h15M1022 350h15M1005 351h9M1005 352h9M526 354h4M526 355h4M485 368h21M646 371h4M646 372h4M589 373h2M619 376h12M619 377h12M626 378h10M833 398h3M781 399h22M781 400h22M670 401h23M670 402h23M669 403h7M931 406h69M931 407h69M961 410h1M997 411h2M997 412h2M988 413h8M988 414h8M987 415h9M633 421h8M633 422h8M776 423h19M776 424h19M858 425h13M597 426h26M597 427h26M854 428h378M854 429h378M438 441h600M438 442h600M1008 455h5M997 470h235M760 478h70M760 479h70M782 480h33M550 485h2M1079 547h15M1019 552h6M666 573h8M666 574h8M878 575h15M878 576h15M872 577h15M541 578h5M541 579h5"/><path stroke="#2aaa81" d="M552 209h42M1073 257h6M1073 258h6M1014 266h11M900 297h153M900 298h153M1059 301h1M553 302h41M553 303h41M963 344h10M963 345h10M1037 349h1M1037 350h1M1014 351h15M1014 352h15M731 353h29M530 354h26M530 355h26M732 359h41M732 360h41M506 368h77M650 371h2M650 372h2M591 373h11M631 376h6M631 377h6M636 378h10M803 399h31M803 400h31M693 401h3M693 402h3M676 403h6M962 410h21M996 413h236M996 414h236M996 415h1M641 421h6M641 422h6M795 423h62M795 424h62M871 425h28M623 426h54M623 427h54M1075 443h41M1075 444h41M409 445h1M1013 455h4M830 478h60M830 479h60M815 480h44M552 485h42M1094 547h4M1025 552h10M674 573h6M674 574h6M893 575h8M893 576h8M887 577h345M546 578h6M546 579h6"/><path stroke="#2dae7f" d="M1079 257h12M1079 258h12M1025 266h10M1053 297h2M1053 298h2M1060 301h1M594 302h1M594 303h1M1060 324h2M1060 325h2M973 344h4M973 345h4M1029 351h6M1029 352h6M760 353h72M556 354h3M556 355h3M773 359h47M773 360h47M583 368h27M652 371h9M652 372h9M602 373h22M637 376h26M637 377h26M646 378h2M834 399h20M834 400h20M696 401h21M696 402h21M682 403h12M1000 406h232M1000 407h232M983 410h12M999 411h233M999 412h233M997 415h235M476 416h8M476 417h8M647 421h4M647 422h4M857 423h29M857 424h29M899 425h333M677 426h55M677 427h55M1116 443h16M1116 444h16M410 445h2M1017 455h1M890 478h14M890 479h14M859 480h27M1098 547h7M1035 552h197M680 573h6M680 574h6M901 575h331M901 576h331M552 578h16M552 579h16"/><path stroke="#30b17d" d="M594 209h4M1091 257h10M1091 258h10M1035 266h197M595 302h1M595 303h1M1062 324h1M1062 325h1M977 344h9M977 345h9M1035 351h3M1035 352h3M832 353h58M559 354h3M559 355h3M820 359h51M820 360h51M610 368h5M661 371h2M661 372h2M624 373h4M663 376h13M663 377h13M854 399h30M854 400h30M717 401h8M717 402h8M694 403h37M995 410h3M651 421h5M651 422h5M886 423h15M886 424h15M732 426h1M732 427h1M1132 443h13M1132 444h13M412 445h2M1018 455h1M904 478h9M904 479h9M886 480h9M594 485h4M1105 547h7M686 573h39M686 574h39M568 578h26M568 579h26"/><path stroke="#33b57a" d="M598 209h1M1101 257h6M1101 258h6M1055 297h177M1055 298h177M1063 324h1M1063 325h1M986 344h5M986 345h5M890 353h16M562 354h10M562 355h10M871 359h52M871 360h52M615 368h2M663 371h16M663 372h16M628 373h4M676 376h3M676 377h3M648 378h22M884 399h23M884 400h23M725 401h55M725 402h55M484 416h99M484 417h99M656 421h7M656 422h7M901 423h331M901 424h331M733 426h21M733 427h21M1145 443h19M1145 444h19M414 445h8M1019 455h8M913 478h319M913 479h319M895 480h337M598 485h1M1112 547h44M725 573h6M725 574h6"/><path stroke="#38b877" d="M1107 257h9M1107 258h9M1061 301h171M596 302h1M596 303h1M991 344h12M991 345h12M906 353h12M572 354h13M572 355h13M923 359h10M923 360h10M617 368h2M679 371h7M679 372h7M632 373h1M679 376h5M679 377h5M670 378h8M907 399h11M907 400h11M780 401h27M780 402h27M998 410h234M583 416h32M583 417h32M663 421h8M663 422h8M754 426h18M754 427h18M1164 443h18M1164 444h18M422 445h3M438 446h630M438 447h630M1027 455h205M1156 547h16M731 573h22M731 574h22M594 578h1M594 579h1"/><path stroke="#40bb73" d="M599 209h133M1116 257h35M1116 258h35M597 302h2M597 303h2M1064 324h159M1064 325h159M918 353h82M585 354h4M585 355h4M933 359h28M933 360h28M619 368h7M686 371h10M686 372h10M633 373h8M684 376h14M684 377h14M678 378h11M918 399h2M918 400h2M807 401h28M807 402h28M731 403h29M615 416h4M615 417h4M671 421h9M671 422h9M772 426h34M772 427h34M1038 441h4M1038 442h4M1182 443h7M1182 444h7M425 445h4M599 485h133M1172 547h60M753 573h73M753 574h73M595 578h1M595 579h1"/><path stroke="#48bf6e" d="M732 209h30M1151 257h6M1151 258h6M599 302h78M599 303h78M1223 324h9M1223 325h9M1003 344h1M1003 345h1M1000 353h1M589 354h3M589 355h3M961 359h37M961 360h37M626 368h15M696 371h2M696 372h2M641 373h10M689 378h9M920 399h20M920 400h20M835 401h1M835 402h1M760 403h13M619 416h66M619 417h66M680 421h39M680 422h39M806 426h27M806 427h27M1042 441h23M1042 442h23M1189 443h16M1189 444h16M429 445h609M1068 446h1M1068 447h1M732 485h30M826 573h53M826 574h53M596 578h1M596 579h1"/><path stroke="#50c26a" d="M762 209h37M1157 257h20M1157 258h20M677 302h55M677 303h55M1004 344h8M1004 345h8M1001 353h4M592 354h7M592 355h7M998 359h3M998 360h3M641 368h7M651 373h5M940 399h62M940 400h62M836 401h2M836 402h2M773 403h53M685 416h27M685 417h27M719 421h12M719 422h12M833 426h22M833 427h22M1205 443h27M1205 444h27M1069 446h1M1069 447h1M762 485h8M879 573h12M879 574h12M597 578h1M597 579h1"/><path stroke="#58c565" d="M799 209h11M1177 257h55M1177 258h55M1012 344h5M1012 345h5M1005 353h1M1001 359h1M1001 360h1M648 368h37M656 373h10M1002 399h1M1002 400h1M838 401h53M838 402h53M826 403h56M712 416h2M712 417h2M731 421h94M731 422h94M855 426h16M855 427h16M1065 441h2M1065 442h2M1070 446h4M1070 447h4M770 485h32M891 573h17M891 574h17M598 578h1M598 579h1"/><path stroke="#60c860" d="M810 209h24M1017 344h1M1017 345h1M599 354h3M599 355h3M1002 359h1M1002 360h1M685 368h13M666 373h10M1003 399h15M1003 400h15M891 401h20M891 402h20M882 403h13M714 416h3M714 417h3M825 421h64M825 422h64M871 426h361M871 427h361M1074 446h6M1074 447h6M802 485h32M908 573h10M908 574h10"/><path stroke="#68cb5c" d="M834 209h28M732 302h36M732 303h36M1018 344h7M1018 345h7M602 354h22M602 355h22M676 373h14M1018 399h4M1018 400h4M911 401h30M911 402h30M895 403h15M717 416h11M717 417h11M889 421h20M889 422h20M1038 445h33M1080 446h13M1080 447h13M834 485h1M918 573h314M918 574h314M599 578h133M599 579h133"/><path stroke="#70ce57" d="M862 209h370M768 302h23M768 303h23M1025 344h13M1025 345h13M1006 353h8M624 354h8M624 355h8M690 373h8M1022 399h210M1022 400h210M941 401h1M941 402h1M910 403h90M728 416h174M728 417h174M909 421h323M909 422h323M1067 441h62M1067 442h62M1071 445h3M1093 446h3M1093 447h3M835 485h17"/><path stroke="#7ad150" d="M791 302h17M791 303h17M1014 353h3M942 401h59M942 402h59M1000 403h1M902 416h19M902 417h19M1129 441h8M1129 442h8M1074 445h13M1096 446h5M1096 447h5M852 485h21"/><path stroke="#84d34a" d="M808 302h26M808 303h26M1017 353h12M632 354h1M632 355h1M1001 401h231M1001 402h231M1001 403h231M921 416h22M921 417h22M1137 441h7M1137 442h7M1087 445h13M1101 446h6M1101 447h6M873 485h359M732 578h38M732 579h38"/><path stroke="#8ed544" d="M834 302h35M834 303h35M1029 353h4M633 354h1M633 355h1M943 416h6M943 417h6M1144 441h43M1144 442h43M1100 445h12M1107 446h7M1107 447h7M770 578h22M770 579h22"/><path stroke="#98d83d" d="M869 302h181M869 303h181M1033 353h5M634 354h20M634 355h20M949 416h21M949 417h21M1187 441h38M1187 442h38M1112 445h3M1114 446h32M1114 447h32M792 578h13M792 579h13"/><path stroke="#a2da37" d="M654 354h15M654 355h15M970 416h10M970 417h10M1225 441h7M1225 442h7M1115 445h6M1146 446h8M1146 447h8M805 578h29M805 579h29"/><path stroke="#acdc31" d="M1050 302h4M1050 303h4M669 354h14M669 355h14M980 416h13M980 417h13M1121 445h22M1154 446h20M1154 447h20M834 578h22M834 579h22"/><path stroke="#b6de2b" d="M1054 302h1M1054 303h1M683 354h48M683 355h48M993 416h239M993 417h239M1143 445h9M1174 446h58M1174 447h58M856 578h17M856 579h17"/><path stroke="#c0df2a" d="M1055 302h7M1055 303h7M1152 445h5M873 578h359M873 579h359"/><path stroke="#cae129" d="M1062 302h145M1062 303h145M731 354h3M731 355h3M1157 445h5"/><path stroke="#d4e228" d="M1207 302h25M1207 303h25M734 354h39M734 355h39M1162 445h2"/><path stroke="#dfe328" d="M773 354h13M773 355h13M1164 445h8"/><path stroke="#e9e427" d="M786 354h45M786 355h45M1172 445h9"/><path stroke="#f3e626" d="M831 354h55M831 355h55M1181 445h51"/><path stroke="#fde725" d="M886 354h119M886 355h119"/></g><g font-size="28.5" font-weight="bold" style="font-family:'Liberation Sans',sans-serif"><text x="566.3" y="385.3" textLength="120.5" lengthAdjust="spacingAndGlyphs" style="fill:#c8c8e6;fill-opacity:.33">Hyblock</text><text x="688.3" y="385.3" textLength="101" lengthAdjust="spacingAndGlyphs" style="fill:#c8c8e6;fill-opacity:.33">Capital</text></g><g transform="translate(.5,0)" fill="none" stroke-width="1" shape-rendering="crispEdges"><path stroke="#3d9970" d="M123 437.7V440.3M124 438.6V441.6M125 438.4V441.0M126 439.1V441.8M127 437.7V440.1M128 439.5V441.9M129 438.2V441.6M131 437.2V440.3M132 437.7V440.2M133 437.3V439.8M134 437.4V440.3M135 435.8V438.8M139 436.6V440.0M140 437.5V440.9M141 436.7V439.7M144 436.8V440.2M145 438.0V440.6M146 436.9V440.0M151 438.8V441.8M152 437.9V440.8M153 438.1V441.4M155 438.2V441.1M162 439.4V441.8M163 438.3V441.2M166 440.3V442.9M167 439.6V442.4M168 439.9V442.6M171 440.3V443.5M172 440.5V442.9M173 440.2V443.1M175 439.3V442.0M176 440.6V442.7M179 439.2V442.5M182 439.8V442.1M183 439.1V441.9M187 440.0V442.5M188 439.1V441.8M192 439.6V442.9M196 439.7V443.4M198 438.5V442.1M199 438.4V441.6M200 438.5V441.3M202 437.8V440.9M204 438.6V440.8M205 438.8V441.5M208 438.2V441.2M211 438.3V440.5M212 438.6V441.2M213 438.9V441.4M214 437.5V440.4M215 437.6V440.6M218 438.4V441.3M219 437.9V441.2M220 437.7V440.3M221 438.0V441.2M227 438.4V441.4M229 438.7V441.5M230 438.3V440.8M231 438.0V440.4M232 438.6V441.0M233 437.8V441.2M234 438.3V441.5M242 437.5V441.0M245 437.4V440.3M246 437.3V440.1M247 437.0V439.9M248 436.8V440.6M249 437.4V439.8M250 437.0V439.8M251 436.3V439.7M253 438.0V441.1M254 437.0V439.8M255 437.7V441.0M256 437.8V440.7M261 439.0V441.7M262 438.0V441.5M265 439.3V442.5M270 439.3V442.1M271 439.6V442.1M273 439.9V443.2M274 440.0V442.8M277 437.3V442.5M278 435.9V439.8M279 436.1V440.4M283 439.2V442.1M284 438.2V441.1M285 438.6V441.2M286 438.9V442.0M289 438.0V441.3M291 438.8V441.1M292 438.2V440.9M293 437.3V440.4M294 438.3V440.9M295 438.9V441.8M296 438.4V441.1M297 438.4V441.5M299 437.6V441.1M300 437.3V440.5M301 437.3V440.5M303 436.9V440.2M304 436.1V439.9M305 436.4V439.6M306 435.8V439.5M307 435.0V438.4M311 433.3V437.7M315 431.8V434.3M318 433.1V436.0M319 432.7V435.9M321 432.1V435.0M322 432.9V436.1M324 431.2V435.7M325 430.4V435.1M326 426.4V431.6M327 427.5V431.2M332 427.6V431.8M334 424.8V429.6M335 424.8V428.2M344 431.4V435.2M345 430.7V435.6M348 429.4V432.8M350 429.6V432.9M351 429.3V433.0M354 426.7V430.6M355 425.8V430.1M356 425.4V430.2M357 426.0V429.0M358 425.6V428.4M362 426.9V430.7M363 426.4V430.1M364 425.7V428.2M365 426.2V428.6M370 428.1V431.4M371 427.0V430.3M372 427.0V430.7M373 426.9V430.6M374 426.6V430.4M375 426.5V429.8M379 426.9V430.2M380 426.2V430.0M381 425.1V429.3M382 416.0V429.1M383 401.5V420.5M384 400.8V405.5M391 407.5V410.4M392 406.7V410.2M393 406.0V410.2M394 404.8V409.1M395 405.2V409.2M396 404.6V408.1M397 403.9V407.2M398 404.1V406.7M399 404.1V407.1M404 405.4V409.1M408 408.6V414.0M410 411.2V414.6M411 409.3V414.8M412 409.1V413.6M415 409.2V411.6M420 410.3V412.9M422 410.1V413.6M423 409.8V412.9M424 409.6V412.9M425 409.5V413.3M426 409.8V413.6M427 409.1V413.3M429 408.0V412.8M430 407.2V411.4M433 402.6V408.0M434 401.4V406.7M435 399.2V404.3M438 404.5V410.5M439 403.4V408.7M440 399.7V405.6M441 394.8V400.7M442 392.8V398.9M453 398.2V402.0M454 397.6V400.9M455 397.5V401.1M456 396.7V400.4M459 394.7V398.2M460 394.9V398.7M462 393.4V398.2M463 392.6V397.8M464 391.6V396.2M465 390.8V395.6M466 388.8V395.2M467 387.7V392.8M468 386.3V391.8M469 383.6V389.1M470 381.6V387.0M472 378.2V383.9M473 376.2V381.2M478 383.3V387.9M479 381.9V387.1M480 380.8V386.0M482 380.3V384.0M484 382.3V387.5M489 388.4V393.0M490 387.9V392.4M491 386.5V391.3M492 387.1V391.2M493 386.1V389.8M494 385.1V389.4M496 384.3V387.8M497 384.4V387.7M499 383.5V386.6M501 383.1V386.5M505 382.9V386.0M506 382.9V386.7M509 384.7V389.7M510 386.6V391.8M514 390.6V394.3M516 390.3V393.7M517 388.8V392.7M518 388.5V391.9M519 389.2V392.3M520 388.5V392.1M521 388.1V391.9M528 390.3V394.3M534 396.2V399.2M536 394.6V398.1M537 394.0V397.2M538 394.7V397.2M541 394.6V397.1M542 394.9V397.6M545 394.1V397.7M548 395.0V398.1M549 395.6V399.6M550 393.8V398.8M551 393.5V397.6M552 392.5V396.7M553 392.0V397.1M554 390.9V395.4M555 389.7V394.4M556 388.5V394.0M557 386.7V391.8M558 384.2V389.6M559 384.2V388.7M560 384.6V388.5M561 385.2V389.0M562 386.6V390.2M564 386.1V388.9M566 387.1V390.5M567 387.0V389.9M568 388.1V391.0M569 385.8V389.5M572 384.1V389.1M573 383.4V388.1M574 382.7V387.0M575 382.5V386.4M576 382.5V387.7M577 384.2V388.8M581 385.3V388.1M583 385.2V388.4M584 386.3V389.6M585 386.7V390.1M593 392.9V395.9M594 389.9V395.0M597 392.7V398.7M598 391.0V396.8M600 387.6V392.1M601 386.5V390.9M605 384.7V388.0M606 383.3V387.4M610 383.3V387.4M611 384.2V387.8M612 384.8V387.9M613 383.8V387.3M615 382.1V386.0M616 382.4V386.3M617 381.5V385.6M620 382.4V388.2M621 384.4V389.4M623 386.6V389.6M624 387.5V390.3M627 386.6V389.5M628 385.7V389.3M630 386.6V389.9M632 384.7V389.9M633 383.4V387.7M635 383.3V386.9M637 384.4V387.0M643 384.5V388.2M644 384.1V387.4M645 384.5V388.5M646 383.6V388.2M648 382.7V386.2M649 383.3V387.0M655 386.0V389.4M663 387.6V391.4M666 387.8V391.2M673 388.4V391.6M674 388.8V391.9M675 388.5V391.6M676 387.9V391.1M678 386.9V390.7M679 386.2V390.2M680 385.7V389.0M681 386.0V389.6M682 385.0V388.0M683 385.7V388.2M684 384.8V388.3M685 385.8V388.2M686 384.9V387.2M687 384.7V387.4M690 385.3V388.1M694 384.3V387.6M695 383.3V388.0M696 381.5V386.9M697 380.3V386.4M698 373.8V380.5M699 375.3V377.9M700 375.3V378.5M703 377.0V380.6M704 378.0V382.1M705 378.2V381.4M706 378.8V381.4M707 378.5V381.3M709 378.6V382.5M710 379.0V383.6M711 381.1V385.6M714 382.1V385.5M716 384.0V387.5M717 383.6V386.7M718 384.5V386.9M719 383.9V387.0M721 383.7V386.9M722 382.8V386.6M723 383.1V386.1M727 381.9V385.3M733 388.3V392.0M734 388.9V391.4M735 387.7V391.0M736 389.0V391.5M737 388.4V391.6M738 389.7V392.6M739 388.5V391.4M741 389.1V392.6M742 389.2V391.7M743 389.1V392.2M744 390.0V392.9M746 389.4V392.6M747 390.2V392.3M758 390.0V393.1M761 393.3V398.7M764 392.4V395.7M765 393.6V397.0M768 391.8V395.4M769 391.9V395.3M770 391.3V394.9M772 389.2V393.9M774 389.4V393.0M776 387.7V391.8M777 387.8V391.2M778 387.7V391.5M779 387.8V390.7M780 387.7V390.6M782 387.0V390.6M785 388.5V392.2M786 388.5V392.4M792 391.2V394.8M793 391.4V394.4M803 393.4V396.9M804 391.7V396.0M806 392.1V395.6M809 391.9V394.6M810 391.2V394.7M811 390.5V393.6M812 390.4V393.9M814 391.5V393.9M816 390.5V393.5M821 389.6V392.2M824 388.9V392.5M825 388.5V392.3M826 388.2V391.8M827 388.1V391.4M828 387.7V391.5M830 387.6V391.0M836 393.8V398.6M837 393.3V397.9M838 392.5V395.6M840 393.0V395.9M841 392.9V395.2M844 392.8V395.4M845 393.3V396.1M848 392.3V396.0M849 391.8V395.1M850 391.1V394.5M851 391.8V394.9M853 390.1V393.8M854 390.9V393.8M856 389.5V392.3M863 390.6V393.6M867 391.3V394.5M870 390.6V394.2M871 389.9V394.0M872 389.7V394.5M873 389.3V392.7M874 389.3V392.3M875 389.0V391.8M876 388.8V391.7M878 388.6V391.4M884 390.5V393.1M885 388.7V393.5M886 387.9V392.8M887 386.8V391.6M888 385.1V390.2M889 385.3V390.2M890 384.9V388.8M892 384.6V388.4M893 386.3V390.0M894 386.7V389.8M895 386.8V390.2M897 385.6V389.1M900 387.4V390.5M901 385.3V389.7M902 384.5V388.8M903 383.5V387.1M904 383.2V387.1M906 383.9V388.1M908 385.5V388.7M909 384.9V388.6M910 384.5V388.1M911 384.9V387.6M912 383.4V386.8M913 385.3V387.8M916 384.2V387.9M917 383.5V387.8M918 381.9V387.3M919 381.6V385.8M920 378.8V384.0M921 376.7V383.4M922 374.8V379.8M923 373.9V377.7M925 377.6V383.0M928 376.2V380.7M929 373.7V379.3M937 379.7V382.2M942 380.7V385.2M945 380.7V384.8M946 379.9V383.7M948 378.4V381.6M949 377.7V381.1M953 376.5V380.4M955 375.5V379.1M956 375.5V378.8M957 375.1V379.5M958 374.1V378.6M962 374.7V379.9M963 376.5V381.2M970 378.7V382.4M971 378.7V383.2M972 377.9V381.6M973 378.7V381.3M976 379.3V382.2M977 379.5V382.1M979 378.3V382.6M980 377.2V382.2M981 375.1V380.4M986 378.3V382.7M989 380.1V383.6M991 380.7V383.5M992 379.4V383.4M994 378.4V382.4M995 378.5V383.2M996 375.7V381.4M997 374.1V379.0M998 370.8V378.5M999 369.3V375.5M1000 366.2V371.8M1001 363.4V369.4M1002 360.6V366.6M1003 356.9V362.8M1007 359.4V363.5M1008 361.1V364.0M1010 359.6V363.3M1011 359.2V362.5M1013 358.0V361.7M1014 357.3V361.5M1015 356.4V360.8M1016 356.6V361.6M1019 361.6V365.0M1020 361.0V365.4M1022 359.4V362.9M1023 359.8V363.3M1024 359.5V362.8M1028 359.8V363.0M1030 357.1V360.6M1031 357.5V361.2M1032 356.7V361.0M1033 356.2V360.4M1037 345.4V359.2M1038 340.0V349.6M1039 338.3V342.5M1040 339.2V344.9M1044 342.3V345.6M1045 341.7V345.9M1046 341.2V344.7M1047 340.8V345.1M1048 340.0V344.6M1049 338.4V343.7M1050 336.6V342.5M1051 336.1V340.5M1052 335.3V338.6M1054 336.1V339.0M1055 333.6V338.6M1056 333.5V337.2M1069 348.5V353.7M1070 348.2V352.5M1071 349.2V352.6M1072 348.4V352.8M1073 346.6V351.8M1074 344.0V348.2M1076 347.4V354.1M1077 350.4V354.5M1084 349.4V352.0M1085 349.2V352.1M1086 349.2V351.8M1090 349.3V351.8M1092 348.5V355.2M1095 354.7V359.1M1096 351.3V356.6M1097 350.7V356.3M1098 350.3V355.5M1099 349.5V353.4M1106 350.5V354.1M1110 352.1V355.3M1112 350.1V355.0M1113 348.2V354.6M1114 347.8V351.2M1115 348.3V351.9M1116 347.4V351.4M1117 347.3V350.5M1118 347.9V350.6M1120 347.5V350.7M1123 347.4V350.1M1129 346.3V349.4M1130 344.8V348.4M1133 342.4V347.1M1135 341.0V345.3M1136 341.1V345.9M1138 343.1V346.6M1149 348.1V351.7M1150 347.8V351.8M1159 349.3V353.9M1160 349.2V353.9M1161 348.6V352.5M1162 347.0V351.8M1163 346.8V350.9M1168 348.2V351.3M1175 348.2V351.6M1179 348.0V351.7M1180 348.1V352.6M1181 346.3V351.0M1182 345.0V350.1M1183 343.9V348.3M1184 343.8V347.1M1189 344.5V347.6M1192 344.7V347.2M1193 344.8V347.3M1195 345.2V348.3M1201 346.7V349.8M1202 346.4V349.8M1203 343.9V349.2M1204 342.5V347.7M1205 340.6V345.8M1206 337.6V343.0M1207 338.6V343.1M1208 339.3V342.8M1212 340.5V343.6M1213 341.0V343.9M1215 340.4V343.8M1216 340.6V343.6M1217 340.4V343.6M1218 340.4V343.2M1222 341.2V343.9M1223 340.3V344.1M1224 340.4V344.7M1228 343.6V346.6M1229 343.5V347.3M1231 341.2V345.3M326 419.5V434.0M382 396.5V428.0M383 395.5V428.0M384 396.0V405.0M436 398.0V412.0M443 388.5V398.0M474 375.0V384.0M698 365.0V386.0M931 370.5V380.0M1038 340.0V358.0M1052 326.5V340.0M1053 327.0V338.0M1005 354.5V368.0M1004 356.0V372.0"/><path stroke="#ff4136" d="M130 437.3V440.9M136 436.0V438.5M137 435.8V439.4M138 436.2V439.1M142 436.5V439.0M143 437.3V440.0M147 437.8V440.1M148 437.3V440.4M149 437.6V440.1M150 437.8V440.9M154 438.4V441.1M156 438.7V442.0M157 438.9V441.7M158 438.8V441.3M159 438.7V441.9M160 438.2V441.5M161 438.9V442.2M164 439.0V442.2M165 439.7V442.5M169 440.0V442.8M170 440.9V443.2M174 439.7V442.5M177 440.1V443.4M178 439.9V443.1M180 438.7V442.0M181 439.5V442.2M184 439.0V441.7M185 439.1V441.8M186 439.8V441.9M189 439.9V442.6M190 439.8V442.4M191 439.6V442.5M193 439.9V442.3M194 440.6V443.6M195 440.6V443.6M197 439.5V443.0M201 438.3V441.1M203 439.2V441.2M206 438.3V441.1M207 437.7V440.9M209 438.5V440.9M210 438.6V441.4M216 438.3V440.8M217 439.0V441.1M222 438.7V441.7M223 438.1V440.2M224 438.2V440.8M225 438.5V441.9M226 438.3V441.2M228 437.7V440.1M235 437.9V440.8M236 438.4V440.7M237 438.7V440.9M238 438.6V441.4M239 438.2V440.4M240 437.8V440.8M241 438.0V440.9M243 437.2V440.4M244 438.0V441.5M252 437.3V440.3M257 437.5V440.6M258 438.4V441.0M259 438.4V441.5M260 437.4V440.2M263 438.9V441.7M264 439.3V442.5M266 438.6V441.5M267 439.3V441.8M268 440.3V443.3M269 439.5V442.3M272 440.1V443.0M275 439.8V442.8M276 438.4V443.4M280 436.6V440.8M281 437.8V441.3M282 439.0V441.8M287 437.9V440.8M288 438.4V441.5M290 437.9V441.1M298 438.1V441.4M302 436.6V439.8M308 436.0V438.8M309 435.5V438.4M310 434.3V438.1M312 432.0V436.7M313 432.5V436.9M314 431.4V435.2M316 432.3V435.6M317 432.9V436.1M320 432.9V435.6M323 431.7V435.9M328 428.6V432.9M329 428.8V432.8M330 428.5V432.4M331 428.8V431.8M333 425.7V430.6M336 425.5V429.5M337 426.0V430.5M338 426.6V431.4M339 427.0V431.8M340 427.8V432.3M341 429.8V434.4M342 430.8V436.0M343 433.3V436.7M346 430.2V434.3M347 428.8V433.2M349 429.6V432.0M352 428.7V432.3M353 426.9V431.8M359 426.7V430.7M360 426.2V429.9M361 426.7V430.8M366 425.9V430.2M367 426.6V430.5M368 426.9V430.8M369 428.5V431.7M376 426.3V428.4M377 426.8V429.4M378 426.2V429.0M385 401.3V406.0M386 402.8V408.0M387 404.7V409.2M388 406.2V410.5M389 405.8V409.9M390 406.5V409.8M400 404.8V407.6M401 404.4V407.2M402 404.9V408.3M403 405.9V409.4M405 405.8V409.3M406 405.4V409.9M407 406.0V411.1M409 411.0V416.4M413 408.6V412.3M414 409.2V412.5M416 409.6V413.0M417 409.6V412.3M418 409.7V413.0M419 409.9V412.5M421 409.9V413.2M428 408.4V412.6M431 404.8V410.3M432 403.9V408.9M436 398.5V403.7M437 401.4V408.7M443 391.1V395.0M444 391.6V398.4M445 394.1V399.0M446 395.4V400.0M447 396.1V401.0M448 397.4V401.5M449 397.1V400.5M450 398.0V401.9M451 398.1V401.0M452 398.5V401.6M457 395.8V399.8M458 396.5V400.5M461 395.3V398.8M471 379.8V386.3M474 374.1V379.7M475 378.9V384.8M476 383.2V389.1M477 383.6V388.2M481 380.8V385.2M483 379.4V384.5M485 383.6V389.6M486 386.3V392.2M487 388.8V393.9M488 389.1V394.3M495 384.1V388.3M498 383.9V387.7M500 383.3V386.1M502 383.8V386.9M503 381.8V385.1M504 382.4V385.3M507 382.8V387.3M508 384.7V389.0M511 387.9V392.8M512 388.8V393.4M513 389.8V394.0M515 389.3V394.1M522 388.2V391.6M523 387.9V390.4M524 387.7V391.3M525 388.4V392.1M526 388.5V392.5M527 389.1V393.6M529 390.8V394.9M530 391.4V396.1M531 392.9V397.6M532 393.9V398.7M533 395.5V399.3M535 394.1V398.2M539 394.4V398.0M540 394.4V397.3M543 394.9V397.5M544 394.2V397.7M546 394.8V398.6M547 396.0V399.6M563 386.3V389.5M565 386.7V389.6M570 385.5V389.6M571 385.4V389.4M578 385.3V389.3M579 385.8V388.5M580 386.0V388.8M582 386.1V389.4M586 386.5V390.1M587 386.9V390.1M588 387.5V391.0M589 388.4V391.8M590 388.8V392.6M591 388.9V392.6M592 389.1V396.9M595 389.9V394.4M596 391.5V396.9M599 387.7V393.4M602 386.2V390.4M603 385.4V390.0M604 385.0V388.2M607 384.0V387.7M608 383.7V386.6M609 383.7V386.8M614 383.4V387.1M618 380.5V384.8M619 380.8V386.2M622 386.1V390.2M625 386.1V390.0M626 385.8V389.8M629 386.0V389.9M631 386.8V390.9M634 385.5V389.0M636 383.6V387.0M638 384.2V386.6M639 383.7V386.8M640 384.5V387.0M641 384.1V387.3M642 383.5V387.3M647 383.3V387.2M650 383.5V387.4M651 385.4V389.4M652 384.8V388.9M653 386.1V388.7M654 385.8V389.0M656 386.2V389.7M657 385.8V388.7M658 386.7V389.8M659 386.8V389.3M660 387.4V390.5M661 386.9V389.9M662 387.3V390.6M664 387.6V390.8M665 388.5V391.4M667 388.2V391.7M668 388.5V391.9M669 388.4V391.9M670 388.4V391.0M671 389.3V391.8M672 388.5V391.6M677 387.9V391.4M688 385.2V388.1M689 385.8V388.3M691 385.0V387.5M692 384.2V387.6M693 385.1V388.1M701 375.7V379.6M702 376.2V380.5M708 378.7V382.1M712 380.8V384.8M713 381.8V385.9M715 383.4V386.4M720 384.4V387.4M724 382.9V386.5M725 381.9V386.0M726 382.0V385.6M728 381.3V384.8M729 379.8V386.8M730 382.9V387.9M731 388.3V395.4M732 389.3V393.9M740 388.7V391.2M745 389.9V392.4M748 389.3V392.0M749 390.2V392.9M750 389.6V392.3M751 390.0V392.8M752 389.6V392.3M753 390.6V393.4M754 390.0V393.3M755 389.5V392.3M756 389.7V392.3M757 389.4V392.5M759 389.1V394.0M760 391.0V396.9M762 394.6V398.2M763 393.7V397.0M766 393.2V396.2M767 392.3V395.6M771 390.5V394.2M773 388.2V393.2M775 389.0V392.6M781 387.7V390.9M783 387.8V391.7M784 388.3V392.6M787 389.3V393.0M788 390.0V394.2M789 391.2V394.1M790 391.0V394.9M791 391.3V394.4M794 391.5V394.7M795 390.9V394.6M796 392.2V395.0M797 392.2V395.7M798 392.6V396.1M799 392.5V396.2M800 393.8V396.8M801 393.9V397.6M802 393.7V397.4M805 392.5V395.7M807 392.2V395.1M808 392.2V394.8M813 391.2V393.9M815 390.2V393.3M817 390.5V393.7M818 390.1V393.0M819 389.8V392.3M820 389.3V392.1M822 389.6V392.2M823 389.2V391.8M829 387.4V390.3M831 387.1V391.5M832 387.7V392.9M833 389.2V395.1M834 391.1V397.3M835 395.3V399.3M839 392.3V395.3M842 392.7V395.1M843 392.7V395.0M846 392.8V395.5M847 392.1V395.3M852 390.6V394.3M855 390.5V393.3M857 390.3V393.2M858 389.8V392.9M859 389.2V392.7M860 389.3V392.7M861 389.9V393.0M862 389.9V393.3M864 390.3V392.9M865 391.1V393.8M866 390.4V393.5M868 390.9V393.4M869 391.0V394.2M877 389.3V392.5M879 389.8V392.4M880 388.5V391.8M881 389.0V391.9M882 389.0V392.9M883 389.7V393.7M891 385.3V388.5M896 385.9V388.6M898 386.3V389.8M899 386.6V389.8M905 383.9V387.5M907 385.4V388.9M914 385.3V388.1M915 384.8V388.0M924 374.8V380.2M926 378.1V381.8M927 376.4V381.5M930 371.6V376.8M931 371.0V377.4M932 373.3V380.5M933 377.1V382.1M934 377.9V381.9M935 378.3V381.7M936 379.1V382.1M938 378.3V383.0M939 378.8V384.8M940 382.8V387.4M941 382.8V387.0M943 381.0V385.6M944 380.7V384.6M947 378.3V382.3M950 377.5V381.8M951 377.2V381.1M952 376.4V380.4M954 376.3V379.9M959 373.2V376.9M960 372.9V376.5M961 372.9V378.3M964 377.9V382.4M965 377.6V382.4M966 379.3V382.9M967 380.2V383.8M968 380.7V384.0M969 380.2V383.5M974 378.5V381.7M975 378.8V381.9M978 379.7V382.1M982 375.3V380.1M983 375.2V379.0M984 376.8V381.7M985 377.6V382.1M987 379.1V383.2M988 379.9V384.0M990 381.0V383.6M993 379.3V383.6M1004 354.7V361.1M1005 355.4V359.9M1006 358.3V364.0M1009 359.7V363.5M1012 358.9V362.0M1017 358.4V364.1M1018 360.8V365.8M1021 360.8V364.4M1025 359.0V362.7M1026 359.2V362.2M1027 358.4V361.7M1029 358.2V361.8M1034 355.6V358.8M1035 356.3V359.1M1036 354.4V359.0M1041 342.5V347.2M1042 343.2V346.3M1043 342.8V345.8M1053 335.5V339.1M1057 334.1V337.3M1058 334.8V338.0M1059 333.9V339.9M1060 335.6V340.1M1061 336.5V341.3M1062 336.8V342.1M1063 338.3V343.3M1064 339.1V348.1M1065 343.5V350.1M1066 347.8V354.3M1067 352.9V355.5M1068 350.9V354.7M1075 343.9V351.4M1078 350.1V354.9M1079 347.9V353.3M1080 348.8V351.8M1081 348.2V351.2M1082 349.7V352.6M1083 349.9V352.8M1087 349.9V352.4M1088 348.7V351.7M1089 349.1V352.3M1091 349.0V352.5M1093 350.7V356.5M1094 353.6V358.5M1100 348.8V352.7M1101 350.6V353.6M1102 349.5V353.0M1103 349.8V353.1M1104 350.3V353.0M1105 350.5V354.1M1107 350.9V354.8M1108 351.6V354.9M1109 351.9V354.8M1111 352.1V356.1M1119 347.0V350.1M1121 347.6V349.9M1122 347.4V349.7M1124 347.1V349.4M1125 346.3V348.6M1126 346.2V349.3M1127 346.3V349.3M1128 347.4V350.4M1131 345.3V350.1M1132 343.6V348.5M1134 340.5V344.5M1137 343.3V347.6M1139 344.9V347.5M1140 344.5V347.6M1141 344.9V348.1M1142 344.5V348.3M1143 345.0V348.6M1144 345.1V348.9M1145 346.0V349.9M1146 347.1V351.2M1147 347.4V351.0M1148 348.1V351.6M1151 349.1V352.4M1152 348.5V352.3M1153 349.5V353.4M1154 349.8V353.7M1155 349.7V353.7M1156 351.1V354.1M1157 351.0V354.6M1158 350.6V353.9M1164 346.9V350.0M1165 346.5V348.7M1166 348.0V350.0M1167 348.1V351.0M1169 347.7V350.9M1170 348.1V351.0M1171 347.3V350.4M1172 348.0V351.1M1173 348.5V351.4M1174 348.1V350.8M1176 348.6V351.4M1177 349.5V351.8M1178 349.0V351.7M1185 345.1V347.4M1186 343.9V347.3M1187 344.4V347.5M1188 344.4V347.4M1190 344.7V347.8M1191 345.6V348.3M1194 345.1V348.0M1196 344.4V348.3M1197 345.2V348.8M1198 344.7V348.4M1199 346.2V349.2M1200 345.2V348.6M1209 339.4V343.7M1210 340.4V343.5M1211 341.0V343.5M1214 341.3V344.2M1219 340.9V343.9M1220 340.9V343.3M1221 340.9V344.1M1225 342.2V346.1M1226 342.6V346.2M1227 342.6V346.8M1230 342.2V346.4M437 311.0V414.0M438 311.0V414.0M731 384.0V396.5M1067 342.0V357.0"/></g><text font-size="17" x="420.3" y="50" textLength="234.5" lengthAdjust="spacingAndGlyphs">Liquidation Levels Heatmap</text><text font-size="17" font-weight="bold" x="662.2" y="50" textLength="223.8" lengthAdjust="spacingAndGlyphs">(Binance, BTC - 7 days)</text><text font-size="17" text-anchor="middle" x="653" y="72" textLength="162" lengthAdjust="spacingAndGlyphs">hyblockcapital.com</text><text font-size="17" text-anchor="middle" x="655.5" y="94" textLength="331" lengthAdjust="spacingAndGlyphs">Last Updated: 21 Oct, 13:50:00 (UTC)</text><path d="M1233 602.74h5" stroke="#444" stroke-width="1"/><text font-size="12" x="1240.8" y="607.04" textLength="22.4" lengthAdjust="spacingAndGlyphs">22k</text><path d="M1233 535.82h5" stroke="#444" stroke-width="1"/><text font-size="12" x="1240.8" y="540.12" textLength="22.4" lengthAdjust="spacingAndGlyphs">24k</text><path d="M1233 468.90h5" stroke="#444" stroke-width="1"/><text font-size="12" x="1240.8" y="473.20" textLength="22.4" lengthAdjust="spacingAndGlyphs">26k</text><path d="M1233 401.98h5" stroke="#444" stroke-width="1"/><text font-size="12" x="1240.8" y="406.28" textLength="22.4" lengthAdjust="spacingAndGlyphs">28k</text><path d="M1233 335.06h5" stroke="#444" stroke-width="1"/><text font-size="12" x="1240.8" y="339.36" textLength="22.4" lengthAdjust="spacingAndGlyphs">30k</text><path d="M1233 268.14h5" stroke="#444" stroke-width="1"/><text font-size="12" x="1240.8" y="272.44" textLength="22.4" lengthAdjust="spacingAndGlyphs">32k</text><path d="M1233 201.22h5" stroke="#444" stroke-width="1"/><text font-size="12" x="1240.8" y="205.52" textLength="22.4" lengthAdjust="spacingAndGlyphs">34k</text><path d="M1233 134.30h5" stroke="#444" stroke-width="1"/><text font-size="12" x="1240.8" y="138.60" textLength="22.4" lengthAdjust="spacingAndGlyphs">36k</text><text font-size="14" text-anchor="middle" transform="translate(1277,364) rotate(-90)">Price</text><path d="M189.5 628v5" stroke="#444" stroke-width="1"/><text font-size="12" text-anchor="end" transform="translate(189.1,638.7) rotate(-90)"><tspan x="0" y="-3.2" textLength="38.6" lengthAdjust="spacingAndGlyphs">Oct 15</tspan><tspan x="0" y="12.6">2023</tspan></text><path d="M348.0 628v5" stroke="#444" stroke-width="1"/><text font-size="12" text-anchor="end" transform="translate(347.4,638.7) rotate(-90)" x="0" y="4.4" textLength="38.6" lengthAdjust="spacingAndGlyphs">Oct 16</text><path d="M506.5 628v5" stroke="#444" stroke-width="1"/><text font-size="12" text-anchor="end" transform="translate(505.9,638.7) rotate(-90)" x="0" y="4.4" textLength="38.6" lengthAdjust="spacingAndGlyphs">Oct 17</text><path d="M665.0 628v5" stroke="#444" stroke-width="1"/><text font-size="12" text-anchor="end" transform="translate(664.4,638.7) rotate(-90)" x="0" y="4.4" textLength="38.6" lengthAdjust="spacingAndGlyphs">Oct 18</text><path d="M823.5 628v5" stroke="#444" stroke-width="1"/><text font-size="12" text-anchor="end" transform="translate(822.9,638.7) rotate(-90)" x="0" y="4.4" textLength="38.6" lengthAdjust="spacingAndGlyphs">Oct 19</text><path d="M982.0 628v5" stroke="#444" stroke-width="1"/><text font-size="12" text-anchor="end" transform="translate(981.4,638.7) rotate(-90)" x="0" y="4.4" textLength="38.6" lengthAdjust="spacingAndGlyphs">Oct 20</text><path d="M1140.5 628v5" stroke="#444" stroke-width="1"/><text font-size="12" text-anchor="end" transform="translate(1139.9,638.7) rotate(-90)" x="0" y="4.4" textLength="38.6" lengthAdjust="spacingAndGlyphs">Oct 21</text><text font-size="14" text-anchor="middle" x="677.5" y="694">time</text><defs><linearGradient id="cb" x1="0" y1="1" x2="0" y2="0"><stop offset="0.0000" stop-color="#440154"/><stop offset="0.1111" stop-color="#482878"/><stop offset="0.2222" stop-color="#3e4989"/><stop offset="0.3333" stop-color="#31688e"/><stop offset="0.4444" stop-color="#26828e"/><stop offset="0.5556" stop-color="#1f9e89"/><stop offset="0.6667" stop-color="#35b779"/><stop offset="0.7778" stop-color="#6ece58"/><stop offset="0.8889" stop-color="#b5de2b"/><stop offset="1.0000" stop-color="#fde725"/></linearGradient></defs><rect x="22" y="110" width="30" height="507" fill="url(#cb)" stroke="#858578" stroke-width="1.2"/><text font-size="12" x="56" y="621.3">0</text><text font-size="12" x="56" y="570.2">10k</text><text font-size="12" x="56" y="519.1">20k</text><text font-size="12" x="56" y="468.0">30k</text><text font-size="12" x="56" y="416.9">40k</text><text font-size="12" x="56" y="365.8">50k</text><text font-size="12" x="56" y="314.7">60k</text><text font-size="12" x="56" y="263.6">70k</text><text font-size="12" x="56" y="212.5">80k</text><text font-size="12" x="56" y="161.4">90k</text></svg></body></html>
